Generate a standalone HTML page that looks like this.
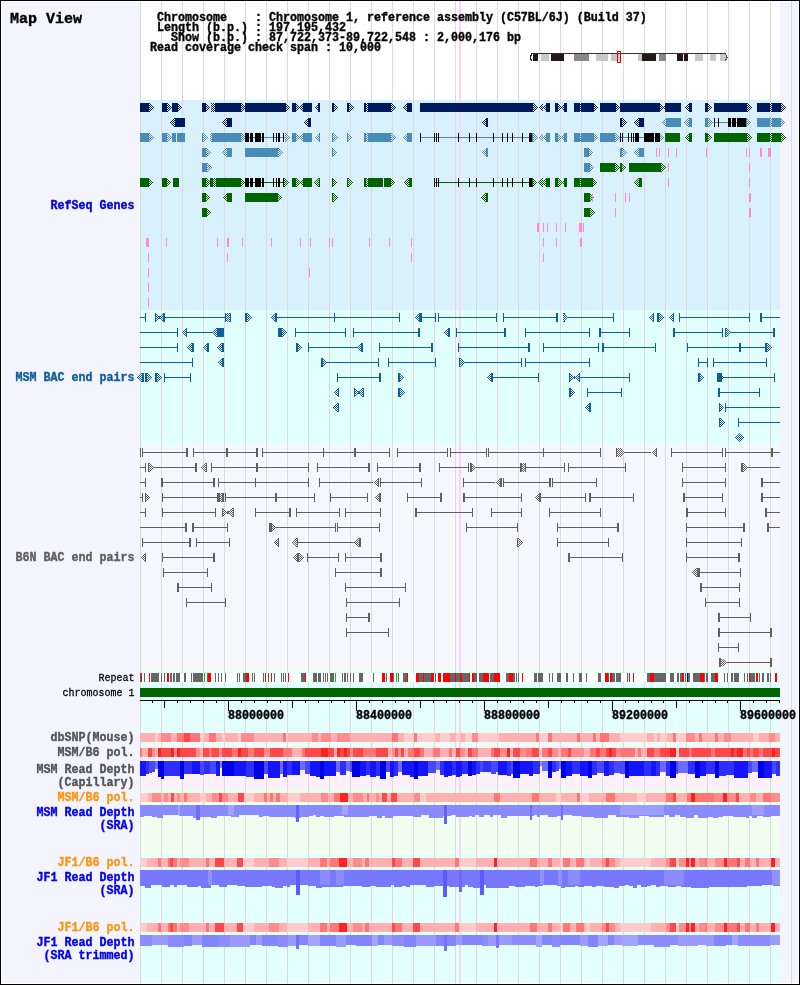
<!DOCTYPE html><html><head><meta charset="utf-8"><title>Map View</title><style>html,body{margin:0;padding:0;background:#fff;}svg{display:block;}</style></head><body><svg width="800" height="985" viewBox="0 0 800 985" shape-rendering="crispEdges"><defs><pattern id="p0" width="2" height="2" patternUnits="userSpaceOnUse"><rect width="2" height="2" fill="#fff"/><rect width="1" height="1" fill="#001a5e"/><rect x="1" y="1" width="1" height="1" fill="#001a5e"/></pattern><pattern id="p1" width="2" height="2" patternUnits="userSpaceOnUse"><rect width="2" height="2" fill="#fff"/><rect width="1" height="1" fill="#4a8cb9"/><rect x="1" y="1" width="1" height="1" fill="#4a8cb9"/></pattern><pattern id="p2" width="2" height="2" patternUnits="userSpaceOnUse"><rect width="2" height="2" fill="#fff"/><rect width="1" height="1" fill="#006400"/><rect x="1" y="1" width="1" height="1" fill="#006400"/></pattern><pattern id="p3" width="2" height="2" patternUnits="userSpaceOnUse"><rect width="2" height="2" fill="#fff"/><rect width="1" height="1" fill="#0f6097"/><rect x="1" y="1" width="1" height="1" fill="#0f6097"/></pattern><pattern id="p4" width="2" height="2" patternUnits="userSpaceOnUse"><rect width="2" height="2" fill="#fff"/><rect width="1" height="1" fill="#5f5f5f"/><rect x="1" y="1" width="1" height="1" fill="#5f5f5f"/></pattern></defs><rect x="0" y="0" width="800" height="985" fill="#000"/><rect x="1" y="1" width="798" height="983" fill="#fff"/><rect x="2" y="2" width="138" height="981" fill="#f4f4ff"/><rect x="780" y="2" width="18" height="981" fill="#f4f4ff"/><rect x="140" y="100" width="640" height="210" fill="#d9f1fc"/><rect x="140" y="310" width="640" height="135" fill="#e2ffff"/><rect x="140" y="445" width="640" height="224" fill="#f6f6fd"/><rect x="140" y="669" width="640" height="2" fill="#ecfeec"/><rect x="140" y="671" width="640" height="73" fill="#e3ffff"/><rect x="140" y="744" width="640" height="2" fill="#ecfeec"/><rect x="140" y="746" width="640" height="43" fill="#fdf0fd"/><rect x="140" y="789" width="640" height="4" fill="#ecfeec"/><rect x="140" y="793" width="640" height="62" fill="#f0fff0"/><rect x="140" y="855" width="640" height="128" fill="#e3ffff"/><rect x="140" y="1" width="1" height="983" fill="#dadada"/><rect x="161" y="1" width="1" height="983" fill="#dadada"/><rect x="182" y="1" width="1" height="983" fill="#dadada"/><rect x="203" y="1" width="1" height="983" fill="#dadada"/><rect x="224" y="1" width="1" height="983" fill="#dadada"/><rect x="245" y="1" width="1" height="983" fill="#dadada"/><rect x="266" y="1" width="1" height="983" fill="#dadada"/><rect x="287" y="1" width="1" height="983" fill="#dadada"/><rect x="308" y="1" width="1" height="983" fill="#dadada"/><rect x="329" y="1" width="1" height="983" fill="#dadada"/><rect x="350" y="1" width="1" height="983" fill="#dadada"/><rect x="371" y="1" width="1" height="983" fill="#dadada"/><rect x="392" y="1" width="1" height="983" fill="#dadada"/><rect x="413" y="1" width="1" height="983" fill="#dadada"/><rect x="434" y="1" width="1" height="983" fill="#dadada"/><rect x="455" y="1" width="1" height="983" fill="#dadada"/><rect x="476" y="1" width="1" height="983" fill="#dadada"/><rect x="497" y="1" width="1" height="983" fill="#dadada"/><rect x="518" y="1" width="1" height="983" fill="#dadada"/><rect x="539" y="1" width="1" height="983" fill="#dadada"/><rect x="560" y="1" width="1" height="983" fill="#dadada"/><rect x="581" y="1" width="1" height="983" fill="#dadada"/><rect x="602" y="1" width="1" height="983" fill="#dadada"/><rect x="623" y="1" width="1" height="983" fill="#dadada"/><rect x="644" y="1" width="1" height="983" fill="#dadada"/><rect x="665" y="1" width="1" height="983" fill="#dadada"/><rect x="686" y="1" width="1" height="983" fill="#dadada"/><rect x="707" y="1" width="1" height="983" fill="#dadada"/><rect x="728" y="1" width="1" height="983" fill="#dadada"/><rect x="749" y="1" width="1" height="983" fill="#dadada"/><rect x="770" y="1" width="1" height="983" fill="#dadada"/><rect x="791" y="1" width="1" height="983" fill="#dadada"/><rect x="459" y="1" width="2" height="983" fill="#f7d6f7"/><rect x="531" y="53" width="194" height="1" fill="#333"/><rect x="533" y="54" width="5" height="7" fill="#231815"/><rect x="541" y="54" width="8" height="7" fill="#c8c8c8"/><rect x="551" y="54" width="13" height="7" fill="#231815"/><rect x="574" y="54" width="15" height="7" fill="#888"/><rect x="596" y="54" width="12" height="7" fill="#c8c8c8"/><rect x="611" y="54" width="9" height="7" fill="#c8c8c8"/><rect x="638" y="54" width="4" height="7" fill="#c8c8c8"/><rect x="642" y="54" width="14" height="7" fill="#231815"/><rect x="659" y="54" width="7" height="7" fill="#888"/><rect x="677" y="54" width="6" height="7" fill="#231815"/><rect x="684" y="54" width="4" height="7" fill="#231815"/><rect x="695" y="54" width="8" height="7" fill="#c8c8c8"/><rect x="710" y="54" width="6" height="7" fill="#c8c8c8"/><rect x="720" y="54" width="6" height="7" fill="#c8c8c8"/><path d="M532,53.5 Q529,57.5 532,61" stroke="#231815" stroke-width="1.4" fill="none"/><path d="M725,53.5 Q729,57.5 725,61" stroke="#555" stroke-width="1.2" fill="none"/><rect x="617.5" y="51.5" width="3" height="11" fill="none" stroke="#e00" stroke-width="1"/><rect x="140" y="103" width="9" height="9" fill="#001a5e"/><polygon points="149,103 154,107.5 149,112" fill="url(#p0)"/><rect x="162" y="103" width="5" height="9" fill="#001a5e"/><polygon points="167,103 172,107.5 167,112" fill="url(#p0)"/><rect x="172" y="103" width="5" height="9" fill="#001a5e"/><rect x="177" y="103" width="1" height="9" fill="#001a5e"/><polygon points="178,103 183,107.5 178,112" fill="url(#p0)"/><rect x="202" y="103" width="4" height="9" fill="#001a5e"/><polygon points="206,103 211,107.5 206,112" fill="url(#p0)"/><rect x="211" y="103" width="4" height="9" fill="url(#p0)"/><rect x="215" y="103" width="26" height="9" fill="#001a5e"/><polygon points="241,103 246,107.5 241,112" fill="url(#p0)"/><rect x="245" y="103" width="41" height="9" fill="#001a5e"/><polygon points="286,103 291,107.5 286,112" fill="url(#p0)"/><rect x="292" y="103" width="4" height="9" fill="#001a5e"/><polygon points="296,103 301,107.5 296,112" fill="url(#p0)"/><polygon points="304,103 299,107.5 304,112" fill="url(#p0)"/><rect x="303" y="103" width="9" height="9" fill="#001a5e"/><polygon points="319,103 314,107.5 319,112" fill="url(#p0)"/><rect x="318" y="103" width="2" height="9" fill="#001a5e"/><rect x="332" y="103" width="2" height="9" fill="#001a5e"/><polygon points="334,103 339,107.5 334,112" fill="url(#p0)"/><rect x="347" y="103" width="2" height="9" fill="#001a5e"/><polygon points="349,103 354,107.5 349,112" fill="url(#p0)"/><rect x="364" y="103" width="26" height="9" fill="#001a5e"/><rect x="366" y="103" width="2" height="9" fill="url(#p0)"/><rect x="390" y="103" width="1" height="9" fill="#001a5e"/><polygon points="391,103 396,107.5 391,112" fill="url(#p0)"/><rect x="407" y="103" width="1" height="9" fill="#001a5e"/><polygon points="407,103 402,107.5 407,112" fill="url(#p0)"/><rect x="408" y="103" width="4" height="9" fill="#001a5e"/><rect x="420" y="103" width="113" height="9" fill="#001a5e"/><polygon points="533,103 538,107.5 533,112" fill="url(#p0)"/><polygon points="543,103 538,107.5 543,112" fill="url(#p0)"/><polygon points="547,103 542,107.5 547,112" fill="url(#p0)"/><rect x="546" y="103" width="4" height="9" fill="#001a5e"/><rect x="555" y="103" width="3" height="9" fill="#001a5e"/><polygon points="558,103 563,107.5 558,112" fill="url(#p0)"/><polygon points="566,103 561,107.5 566,112" fill="url(#p0)"/><rect x="564" y="103" width="3" height="9" fill="#001a5e"/><rect x="574" y="103" width="20" height="9" fill="#001a5e"/><rect x="580" y="103" width="1" height="9" fill="url(#p0)"/><polygon points="594,103 599,107.5 594,112" fill="url(#p0)"/><rect x="600" y="103" width="15" height="9" fill="#001a5e"/><rect x="615" y="103" width="1" height="9" fill="#001a5e"/><polygon points="616,103 621,107.5 616,112" fill="url(#p0)"/><rect x="620" y="103" width="40" height="9" fill="#001a5e"/><polygon points="660,103 665,107.5 660,112" fill="url(#p0)"/><polygon points="667,103 662,107.5 667,112" fill="url(#p0)"/><rect x="665" y="103" width="16" height="9" fill="#001a5e"/><polygon points="689,103 684,107.5 689,112" fill="url(#p0)"/><rect x="689" y="103" width="3" height="9" fill="#001a5e"/><rect x="705" y="103" width="3" height="9" fill="#001a5e"/><polygon points="708,103 713,107.5 708,112" fill="url(#p0)"/><rect x="714" y="103" width="33" height="9" fill="#001a5e"/><polygon points="747,103 752,107.5 747,112" fill="url(#p0)"/><rect x="757" y="103" width="13" height="9" fill="#001a5e"/><rect x="770" y="103" width="2" height="9" fill="url(#p0)"/><rect x="772" y="103" width="8" height="9" fill="#001a5e"/><rect x="780" y="103" width="1" height="9" fill="#001a5e"/><polygon points="781,103 786,107.5 781,112" fill="url(#p0)"/><rect x="175" y="118" width="3" height="9" fill="#001a5e"/><polygon points="175,118 170,122.5 175,127" fill="url(#p0)"/><rect x="178" y="118" width="7" height="9" fill="#001a5e"/><rect x="227" y="118" width="1" height="9" fill="#001a5e"/><polygon points="227,118 222,122.5 227,127" fill="url(#p0)"/><rect x="228" y="118" width="4" height="9" fill="#001a5e"/><polygon points="309,118 304,122.5 309,127" fill="url(#p0)"/><rect x="308" y="118" width="3" height="9" fill="#001a5e"/><polygon points="486,118 481,122.5 486,127" fill="url(#p0)"/><rect x="486" y="118" width="2" height="9" fill="#001a5e"/><rect x="620" y="118" width="2" height="9" fill="#001a5e"/><polygon points="622,118 627,122.5 622,127" fill="url(#p0)"/><rect x="639" y="118" width="1" height="9" fill="#001a5e"/><polygon points="639,118 634,122.5 639,127" fill="url(#p0)"/><rect x="640" y="118" width="4" height="9" fill="#001a5e"/><polygon points="667,118 662,122.5 667,127" fill="url(#p1)"/><rect x="666" y="118" width="15" height="9" fill="#4a8cb9"/><polygon points="689,118 684,122.5 689,127" fill="url(#p1)"/><rect x="689" y="118" width="3" height="9" fill="#4a8cb9"/><rect x="705" y="118" width="2" height="9" fill="#4a8cb9"/><rect x="707" y="118" width="1" height="9" fill="#4a8cb9"/><polygon points="708,118 713,122.5 708,127" fill="url(#p1)"/><rect x="714" y="122" width="33" height="1" fill="#4a8cb9"/><rect x="714" y="118" width="1" height="9" fill="#000"/><rect x="718" y="118" width="1" height="9" fill="#000"/><rect x="728" y="118" width="3" height="9" fill="#000"/><rect x="732" y="118" width="4" height="9" fill="#000"/><rect x="737" y="118" width="9" height="9" fill="#000"/><rect x="746" y="118" width="1" height="9" fill="#4a8cb9"/><polygon points="747,118 752,122.5 747,127" fill="url(#p1)"/><rect x="757" y="118" width="13" height="9" fill="#4a8cb9"/><rect x="770" y="118" width="2" height="9" fill="url(#p1)"/><rect x="772" y="118" width="8" height="9" fill="#4a8cb9"/><rect x="780" y="118" width="1" height="9" fill="#4a8cb9"/><polygon points="781,118 786,122.5 781,127" fill="url(#p1)"/><rect x="140" y="133" width="9" height="9" fill="#4a8cb9"/><polygon points="149,133 154,137.5 149,142" fill="url(#p1)"/><rect x="162" y="133" width="5" height="9" fill="#4a8cb9"/><polygon points="167,133 172,137.5 167,142" fill="url(#p1)"/><rect x="172" y="133" width="4" height="9" fill="#4a8cb9"/><rect x="177" y="133" width="8" height="9" fill="#4a8cb9"/><rect x="202" y="133" width="1" height="9" fill="#4a8cb9"/><polygon points="203,133 208,137.5 203,142" fill="url(#p1)"/><rect x="210" y="133" width="2" height="9" fill="url(#p1)"/><rect x="212" y="133" width="29" height="9" fill="#4a8cb9"/><polygon points="241,133 246,137.5 241,142" fill="url(#p1)"/><rect x="245" y="137" width="40" height="1" fill="#4a8cb9"/><rect x="245" y="133" width="4" height="9" fill="#000"/><rect x="250" y="133" width="3" height="9" fill="#000"/><rect x="255" y="133" width="6" height="9" fill="#000"/><rect x="262" y="133" width="2" height="9" fill="#000"/><rect x="273" y="133" width="1" height="9" fill="#000"/><rect x="276" y="133" width="1" height="9" fill="#000"/><rect x="278" y="133" width="1" height="9" fill="#000"/><rect x="279" y="133" width="1" height="9" fill="#000"/><rect x="283" y="133" width="1" height="9" fill="#000"/><polygon points="285,133 290,137.5 285,142" fill="url(#p1)"/><rect x="292" y="133" width="4" height="9" fill="#4a8cb9"/><polygon points="296,133 301,137.5 296,142" fill="url(#p1)"/><polygon points="304,133 299,137.5 304,142" fill="url(#p1)"/><rect x="303" y="133" width="9" height="9" fill="#4a8cb9"/><rect x="319" y="133" width="1" height="9" fill="#4a8cb9"/><polygon points="319,133 314,137.5 319,142" fill="url(#p1)"/><rect x="332" y="133" width="1" height="9" fill="#4a8cb9"/><polygon points="333,133 338,137.5 333,142" fill="url(#p1)"/><rect x="347" y="133" width="1" height="9" fill="#4a8cb9"/><polygon points="348,133 353,137.5 348,142" fill="url(#p1)"/><rect x="364" y="133" width="26" height="9" fill="#4a8cb9"/><rect x="366" y="133" width="2" height="9" fill="url(#p1)"/><rect x="390" y="133" width="1" height="9" fill="#4a8cb9"/><polygon points="391,133 396,137.5 391,142" fill="url(#p1)"/><rect x="407" y="133" width="2" height="9" fill="#4a8cb9"/><polygon points="407,133 402,137.5 407,142" fill="url(#p1)"/><rect x="409" y="133" width="3" height="9" fill="#4a8cb9"/><rect x="420" y="137" width="113" height="1" fill="#4a8cb9"/><rect x="420" y="133" width="1" height="9" fill="#000"/><rect x="434" y="133" width="1" height="9" fill="#000"/><rect x="436" y="133" width="1" height="9" fill="#000"/><rect x="438" y="133" width="1" height="9" fill="#000"/><rect x="458" y="133" width="1" height="9" fill="#000"/><rect x="469" y="133" width="1" height="9" fill="#000"/><rect x="476" y="133" width="1" height="9" fill="#000"/><rect x="493" y="133" width="1" height="9" fill="#000"/><rect x="502" y="133" width="1" height="9" fill="#000"/><rect x="507" y="133" width="1" height="9" fill="#000"/><rect x="512" y="133" width="1" height="9" fill="#000"/><rect x="522" y="133" width="1" height="9" fill="#000"/><rect x="529" y="133" width="3" height="9" fill="#000"/><rect x="532" y="133" width="1" height="9" fill="#4a8cb9"/><polygon points="533,133 538,137.5 533,142" fill="url(#p1)"/><polygon points="543,133 538,137.5 543,142" fill="url(#p1)"/><polygon points="547,133 542,137.5 547,142" fill="url(#p1)"/><rect x="546" y="133" width="4" height="9" fill="#4a8cb9"/><rect x="555" y="133" width="3" height="9" fill="#4a8cb9"/><polygon points="558,133 563,137.5 558,142" fill="url(#p1)"/><polygon points="566,133 561,137.5 566,142" fill="url(#p1)"/><rect x="564" y="133" width="3" height="9" fill="#4a8cb9"/><rect x="574" y="133" width="20" height="9" fill="#4a8cb9"/><rect x="580" y="133" width="1" height="9" fill="url(#p1)"/><polygon points="594,133 599,137.5 594,142" fill="url(#p1)"/><rect x="600" y="133" width="15" height="9" fill="#4a8cb9"/><polygon points="615,133 620,137.5 615,142" fill="url(#p1)"/><rect x="620" y="137" width="41" height="1" fill="#4a8cb9"/><rect x="620" y="133" width="1" height="9" fill="#000"/><rect x="622" y="133" width="1" height="9" fill="#000"/><rect x="628" y="133" width="1" height="9" fill="#000"/><rect x="631" y="133" width="1" height="9" fill="#000"/><rect x="633" y="133" width="1" height="9" fill="#000"/><rect x="635" y="133" width="4" height="9" fill="#000"/><rect x="644" y="133" width="5" height="9" fill="#000"/><rect x="649" y="133" width="5" height="9" fill="#000"/><rect x="655" y="133" width="5" height="9" fill="#000"/><polygon points="660,133 665,137.5 660,142" fill="url(#p1)"/><rect x="665" y="133" width="15" height="9" fill="#006400"/><rect x="689" y="133" width="1" height="9" fill="#006400"/><polygon points="689,133 684,137.5 689,142" fill="url(#p2)"/><rect x="690" y="133" width="2" height="9" fill="#006400"/><rect x="705" y="133" width="3" height="9" fill="#006400"/><polygon points="708,133 713,137.5 708,142" fill="url(#p2)"/><rect x="714" y="133" width="33" height="9" fill="#006400"/><polygon points="747,133 752,137.5 747,142" fill="url(#p2)"/><rect x="757" y="133" width="13" height="9" fill="#006400"/><rect x="770" y="133" width="2" height="9" fill="url(#p2)"/><rect x="772" y="133" width="8" height="9" fill="#006400"/><rect x="780" y="133" width="1" height="9" fill="#006400"/><polygon points="781,133 786,137.5 781,142" fill="url(#p2)"/><rect x="202" y="148" width="3" height="9" fill="#4a8cb9"/><rect x="205" y="148" width="1" height="9" fill="#4a8cb9"/><polygon points="206,148 211,152.5 206,157" fill="url(#p1)"/><rect x="227" y="148" width="1" height="9" fill="#4a8cb9"/><polygon points="227,148 222,152.5 227,157" fill="url(#p1)"/><rect x="228" y="148" width="4" height="9" fill="#4a8cb9"/><rect x="245" y="148" width="32" height="9" fill="#4a8cb9"/><rect x="277" y="148" width="1" height="9" fill="#4a8cb9"/><polygon points="278,148 283,152.5 278,157" fill="url(#p1)"/><rect x="332" y="148" width="1" height="9" fill="#4a8cb9"/><polygon points="333,148 338,152.5 333,157" fill="url(#p1)"/><rect x="486" y="148" width="2" height="9" fill="#4a8cb9"/><polygon points="486,148 481,152.5 486,157" fill="url(#p1)"/><rect x="584" y="148" width="5" height="9" fill="#4a8cb9"/><polygon points="589,148 594,152.5 589,157" fill="url(#p1)"/><rect x="620" y="148" width="2" height="9" fill="#4a8cb9"/><polygon points="622,148 627,152.5 622,157" fill="url(#p1)"/><rect x="639" y="148" width="1" height="9" fill="#4a8cb9"/><polygon points="639,148 634,152.5 639,157" fill="url(#p1)"/><rect x="640" y="148" width="4" height="9" fill="#4a8cb9"/><rect x="656" y="148" width="1" height="9" fill="#ff8cc4"/><rect x="659" y="148" width="1" height="9" fill="#ff8cc4"/><rect x="668" y="148" width="1" height="9" fill="#ff8cc4"/><rect x="676" y="148" width="1" height="9" fill="#ff8cc4"/><rect x="706" y="148" width="1" height="9" fill="#ff8cc4"/><rect x="746" y="148" width="1" height="9" fill="#ff8cc4"/><rect x="749" y="148" width="1" height="9" fill="#ff8cc4"/><rect x="760" y="148" width="2" height="9" fill="#ff8cc4"/><rect x="768" y="148" width="3" height="9" fill="#ff8cc4"/><rect x="202" y="163" width="3" height="9" fill="#4a8cb9"/><rect x="205" y="163" width="2" height="9" fill="#4a8cb9"/><polygon points="207,163 212,167.5 207,172" fill="url(#p1)"/><rect x="584" y="163" width="5" height="9" fill="#4a8cb9"/><rect x="589" y="163" width="1" height="9" fill="#4a8cb9"/><polygon points="590,163 595,167.5 590,172" fill="url(#p1)"/><rect x="600" y="163" width="15" height="9" fill="#006400"/><polygon points="615,163 620,167.5 615,172" fill="url(#p2)"/><rect x="620" y="163" width="2" height="9" fill="#006400"/><polygon points="622,163 627,167.5 622,172" fill="url(#p2)"/><rect x="629" y="163" width="31" height="9" fill="#006400"/><rect x="660" y="163" width="1" height="9" fill="#006400"/><polygon points="661,163 666,167.5 661,172" fill="url(#p2)"/><rect x="668" y="163" width="1" height="9" fill="#ff8cc4"/><rect x="749" y="163" width="1" height="9" fill="#ff8cc4"/><rect x="140" y="178" width="9" height="9" fill="#006400"/><polygon points="149,178 154,182.5 149,187" fill="url(#p2)"/><rect x="162" y="178" width="5" height="9" fill="#006400"/><polygon points="167,178 172,182.5 167,187" fill="url(#p2)"/><rect x="173" y="178" width="5" height="9" fill="#006400"/><rect x="178" y="178" width="1" height="9" fill="#006400"/><rect x="202" y="178" width="4" height="9" fill="#006400"/><polygon points="206,178 211,182.5 206,187" fill="url(#p2)"/><rect x="210" y="178" width="3" height="9" fill="#006400"/><rect x="213" y="178" width="3" height="9" fill="url(#p2)"/><rect x="216" y="178" width="25" height="9" fill="#006400"/><polygon points="241,178 246,182.5 241,187" fill="url(#p2)"/><rect x="245" y="182" width="40" height="1" fill="#006400"/><rect x="245" y="178" width="4" height="9" fill="#000"/><rect x="250" y="178" width="3" height="9" fill="#000"/><rect x="255" y="178" width="6" height="9" fill="#000"/><rect x="262" y="178" width="2" height="9" fill="#000"/><rect x="273" y="178" width="1" height="9" fill="#000"/><rect x="276" y="178" width="1" height="9" fill="#000"/><rect x="278" y="178" width="1" height="9" fill="#000"/><rect x="279" y="178" width="1" height="9" fill="#000"/><rect x="283" y="178" width="1" height="9" fill="#000"/><polygon points="284,178 289,182.5 284,187" fill="url(#p2)"/><rect x="292" y="178" width="4" height="9" fill="#006400"/><polygon points="296,178 301,182.5 296,187" fill="url(#p2)"/><polygon points="304,178 299,182.5 304,187" fill="url(#p2)"/><rect x="303" y="178" width="9" height="9" fill="#006400"/><rect x="319" y="178" width="1" height="9" fill="#006400"/><polygon points="319,178 314,182.5 319,187" fill="url(#p2)"/><rect x="332" y="178" width="1" height="9" fill="#006400"/><polygon points="333,178 338,182.5 333,187" fill="url(#p2)"/><rect x="347" y="178" width="1" height="9" fill="#006400"/><polygon points="348,178 353,182.5 348,187" fill="url(#p2)"/><rect x="364" y="178" width="26" height="9" fill="#006400"/><rect x="366" y="178" width="2" height="9" fill="url(#p2)"/><rect x="383" y="178" width="1" height="9" fill="#fff"/><rect x="390" y="178" width="1" height="9" fill="#006400"/><polygon points="391,178 396,182.5 391,187" fill="url(#p2)"/><rect x="409" y="178" width="3" height="9" fill="#006400"/><polygon points="409,178 404,182.5 409,187" fill="url(#p2)"/><rect x="434" y="182" width="99" height="1" fill="#006400"/><rect x="434" y="178" width="1" height="9" fill="#000"/><rect x="436" y="178" width="1" height="9" fill="#000"/><rect x="438" y="178" width="1" height="9" fill="#000"/><rect x="458" y="178" width="1" height="9" fill="#000"/><rect x="469" y="178" width="1" height="9" fill="#000"/><rect x="476" y="178" width="1" height="9" fill="#000"/><rect x="493" y="178" width="1" height="9" fill="#000"/><rect x="502" y="178" width="1" height="9" fill="#000"/><rect x="507" y="178" width="1" height="9" fill="#000"/><rect x="512" y="178" width="1" height="9" fill="#000"/><rect x="522" y="178" width="1" height="9" fill="#000"/><rect x="529" y="178" width="3" height="9" fill="#000"/><rect x="532" y="178" width="1" height="9" fill="#006400"/><polygon points="533,178 538,182.5 533,187" fill="url(#p2)"/><polygon points="543,178 538,182.5 543,187" fill="url(#p2)"/><polygon points="547,178 542,182.5 547,187" fill="url(#p2)"/><rect x="546" y="178" width="4" height="9" fill="#006400"/><rect x="555" y="178" width="3" height="9" fill="#006400"/><polygon points="558,178 563,182.5 558,187" fill="url(#p2)"/><polygon points="566,178 561,182.5 566,187" fill="url(#p2)"/><rect x="564" y="178" width="3" height="9" fill="#006400"/><rect x="574" y="178" width="19" height="9" fill="#006400"/><rect x="580" y="178" width="1" height="9" fill="url(#p2)"/><polygon points="593,178 598,182.5 593,187" fill="url(#p2)"/><polygon points="639,178 634,182.5 639,187" fill="url(#p2)"/><rect x="639" y="178" width="3" height="9" fill="#006400"/><rect x="668" y="178" width="1" height="9" fill="#ff8cc4"/><rect x="749" y="178" width="1" height="9" fill="#ff8cc4"/><rect x="202" y="193" width="3" height="9" fill="#006400"/><rect x="205" y="193" width="1" height="9" fill="#006400"/><polygon points="206,193 211,197.5 206,202" fill="url(#p2)"/><rect x="227" y="193" width="1" height="9" fill="#006400"/><polygon points="227,193 222,197.5 227,202" fill="url(#p2)"/><rect x="228" y="193" width="4" height="9" fill="#006400"/><rect x="245" y="193" width="32" height="9" fill="#006400"/><rect x="277" y="193" width="1" height="9" fill="#006400"/><polygon points="278,193 283,197.5 278,202" fill="url(#p2)"/><rect x="332" y="193" width="1" height="9" fill="#006400"/><polygon points="333,193 338,197.5 333,202" fill="url(#p2)"/><rect x="486" y="193" width="2" height="9" fill="#006400"/><polygon points="486,193 481,197.5 486,202" fill="url(#p2)"/><rect x="584" y="193" width="6" height="9" fill="#006400"/><polygon points="590,193 595,197.5 590,202" fill="url(#p2)"/><rect x="592" y="193" width="1" height="9" fill="#ff8cc4"/><rect x="615" y="193" width="1" height="9" fill="#ff8cc4"/><rect x="625" y="193" width="1" height="9" fill="#ff8cc4"/><rect x="629" y="193" width="1" height="9" fill="#ff8cc4"/><rect x="749" y="193" width="2" height="9" fill="#ff8cc4"/><rect x="202" y="208" width="3" height="9" fill="#006400"/><rect x="205" y="208" width="2" height="9" fill="#006400"/><polygon points="207,208 212,212.5 207,217" fill="url(#p2)"/><rect x="584" y="208" width="6" height="9" fill="#006400"/><polygon points="590,208 595,212.5 590,217" fill="url(#p2)"/><rect x="615" y="208" width="1" height="9" fill="#ff8cc4"/><rect x="749" y="208" width="2" height="9" fill="#ff8cc4"/><rect x="537" y="223" width="2" height="9" fill="#ff8cc4"/><rect x="543" y="223" width="1" height="9" fill="#ff8cc4"/><rect x="547" y="223" width="1" height="9" fill="#ff8cc4"/><rect x="556" y="223" width="1" height="9" fill="#ff8cc4"/><rect x="565" y="223" width="1" height="9" fill="#ff8cc4"/><rect x="579" y="223" width="3" height="9" fill="#ff8cc4"/><rect x="583" y="223" width="1" height="9" fill="#ff8cc4"/><rect x="146" y="238" width="3" height="9" fill="#ff8cc4"/><rect x="166" y="238" width="1" height="9" fill="#ff8cc4"/><rect x="217" y="238" width="1" height="9" fill="#ff8cc4"/><rect x="227" y="238" width="2" height="9" fill="#ff8cc4"/><rect x="242" y="238" width="1" height="9" fill="#ff8cc4"/><rect x="271" y="238" width="1" height="9" fill="#ff8cc4"/><rect x="300" y="238" width="1" height="9" fill="#ff8cc4"/><rect x="310" y="238" width="1" height="9" fill="#ff8cc4"/><rect x="329" y="238" width="1" height="9" fill="#ff8cc4"/><rect x="332" y="238" width="1" height="9" fill="#ff8cc4"/><rect x="369" y="238" width="1" height="9" fill="#ff8cc4"/><rect x="389" y="238" width="1" height="9" fill="#ff8cc4"/><rect x="411" y="238" width="1" height="9" fill="#ff8cc4"/><rect x="543" y="238" width="1" height="9" fill="#ff8cc4"/><rect x="556" y="238" width="1" height="9" fill="#ff8cc4"/><rect x="580" y="238" width="2" height="9" fill="#ff8cc4"/><rect x="148" y="253" width="1" height="9" fill="#ff8cc4"/><rect x="227" y="253" width="1" height="9" fill="#ff8cc4"/><rect x="411" y="253" width="1" height="9" fill="#ff8cc4"/><rect x="543" y="253" width="1" height="9" fill="#ff8cc4"/><rect x="148" y="268" width="1" height="9" fill="#ff8cc4"/><rect x="309" y="268" width="1" height="9" fill="#ff8cc4"/><rect x="148" y="283" width="1" height="9" fill="#ff8cc4"/><rect x="148" y="298" width="1" height="9" fill="#ff8cc4"/><rect x="140.0" y="317" width="6.0" height="1" fill="#0f6097"/><rect x="145.0" y="313" width="1" height="9" fill="#0f6097"/><rect x="155" y="313" width="1" height="9" fill="#0f6097"/><rect x="163" y="313" width="1" height="9" fill="#0f6097"/><polygon points="156,313 161,317.5 156,322" fill="url(#p3)"/><polygon points="163,313 158,317.5 163,322" fill="url(#p3)"/><rect x="159" y="316" width="1" height="3" fill="#0f6097"/><rect x="164.0" y="313" width="1" height="9" fill="#0f6097"/><rect x="164.0" y="317" width="63.0" height="1" fill="#0f6097"/><rect x="225" y="313" width="6" height="9" fill="url(#p3)"/><rect x="225" y="313" width="1" height="9" fill="#0f6097"/><rect x="230" y="313" width="1" height="9" fill="#0f6097"/><rect x="245" y="313" width="2" height="9" fill="#0f6097"/><polygon points="247,313 252,317.5 247,322" fill="url(#p3)"/><rect x="275" y="313" width="1" height="9" fill="#0f6097"/><polygon points="275,313 270,317.5 275,322" fill="url(#p3)"/><rect x="276.0" y="313" width="1" height="9" fill="#0f6097"/><rect x="276.0" y="317" width="124.0" height="1" fill="#0f6097"/><rect x="334.0" y="313" width="1" height="9" fill="#0f6097"/><rect x="399.0" y="313" width="1" height="9" fill="#0f6097"/><rect x="419" y="313" width="2" height="9" fill="#0f6097"/><polygon points="419,313 414,317.5 419,322" fill="url(#p3)"/><rect x="421.0" y="313" width="1" height="9" fill="#0f6097"/><rect x="421.0" y="317" width="15.0" height="1" fill="#0f6097"/><rect x="435.0" y="313" width="1" height="9" fill="#0f6097"/><rect x="438.0" y="313" width="1" height="9" fill="#0f6097"/><rect x="438.0" y="317" width="59.0" height="1" fill="#0f6097"/><rect x="496.0" y="313" width="1" height="9" fill="#0f6097"/><rect x="503.0" y="313" width="1" height="9" fill="#0f6097"/><rect x="503.0" y="317" width="55.0" height="1" fill="#0f6097"/><rect x="556.0" y="313" width="2" height="9" fill="#0f6097"/><rect x="563.0" y="313" width="2" height="9" fill="#0f6097"/><polygon points="563,313 568,317.5 563,322" fill="url(#p3)"/><rect x="567.0" y="317" width="47.0" height="1" fill="#0f6097"/><rect x="613.0" y="313" width="1" height="9" fill="#0f6097"/><rect x="653" y="313" width="1" height="9" fill="#0f6097"/><polygon points="653,313 648,317.5 653,322" fill="url(#p3)"/><rect x="657" y="313" width="2" height="9" fill="#0f6097"/><polygon points="659,313 664,317.5 659,322" fill="url(#p3)"/><rect x="673" y="313" width="1" height="9" fill="#0f6097"/><polygon points="673,313 668,317.5 673,322" fill="url(#p3)"/><rect x="679.0" y="313" width="1" height="9" fill="#0f6097"/><rect x="679.0" y="317" width="71.0" height="1" fill="#0f6097"/><rect x="749.0" y="313" width="1" height="9" fill="#0f6097"/><rect x="760.0" y="313" width="2" height="9" fill="#0f6097"/><rect x="760.0" y="317" width="20.0" height="1" fill="#0f6097"/><rect x="140.0" y="332" width="38.0" height="1" fill="#0f6097"/><rect x="177.0" y="328" width="1" height="9" fill="#0f6097"/><rect x="186" y="328" width="1" height="9" fill="#0f6097"/><polygon points="186,328 181,332.5 186,337" fill="url(#p3)"/><rect x="187.0" y="332" width="26.0" height="1" fill="#0f6097"/><rect x="217" y="328" width="1" height="9" fill="#0f6097"/><polygon points="217,328 212,332.5 217,337" fill="url(#p3)"/><rect x="218.0" y="328" width="6.0" height="9" fill="#0f6097"/><rect x="278" y="328" width="4" height="9" fill="#0f6097"/><polygon points="282,328 287,332.5 282,337" fill="url(#p3)"/><rect x="295.0" y="328" width="1" height="9" fill="#0f6097"/><rect x="295.0" y="332" width="51.0" height="1" fill="#0f6097"/><rect x="345.0" y="328" width="1" height="9" fill="#0f6097"/><rect x="353.0" y="328" width="1" height="9" fill="#0f6097"/><rect x="353.0" y="332" width="67.0" height="1" fill="#0f6097"/><rect x="418.0" y="328" width="2" height="9" fill="#0f6097"/><rect x="448" y="328" width="2" height="9" fill="#0f6097"/><polygon points="448,328 443,332.5 448,337" fill="url(#p3)"/><rect x="456.0" y="328" width="1" height="9" fill="#0f6097"/><rect x="456.0" y="332" width="50.0" height="1" fill="#0f6097"/><rect x="504.0" y="328" width="2" height="9" fill="#0f6097"/><rect x="525.0" y="328" width="1" height="9" fill="#0f6097"/><rect x="525.0" y="332" width="65.0" height="1" fill="#0f6097"/><rect x="589.0" y="328" width="1" height="9" fill="#0f6097"/><rect x="599.0" y="328" width="2" height="9" fill="#0f6097"/><rect x="600.0" y="332" width="30.0" height="1" fill="#0f6097"/><rect x="629.0" y="328" width="1" height="9" fill="#0f6097"/><rect x="673.0" y="328" width="2" height="9" fill="#0f6097"/><rect x="674.0" y="332" width="49.0" height="1" fill="#0f6097"/><rect x="722.0" y="328" width="1" height="9" fill="#0f6097"/><rect x="725.0" y="328" width="1" height="9" fill="#0f6097"/><polygon points="726,328 731,332.5 726,337" fill="url(#p3)"/><rect x="730.0" y="332" width="45.0" height="1" fill="#0f6097"/><rect x="773.0" y="328" width="2" height="9" fill="#0f6097"/><rect x="140.0" y="347" width="38.0" height="1" fill="#0f6097"/><rect x="177.0" y="343" width="1" height="9" fill="#0f6097"/><rect x="192" y="343" width="2" height="9" fill="#0f6097"/><polygon points="192,343 187,347.5 192,352" fill="url(#p3)"/><rect x="207" y="343" width="2" height="9" fill="#0f6097"/><polygon points="207,343 202,347.5 207,352" fill="url(#p3)"/><rect x="222" y="343" width="2" height="9" fill="#0f6097"/><polygon points="222,343 217,347.5 222,352" fill="url(#p3)"/><rect x="296" y="343" width="2" height="9" fill="#0f6097"/><polygon points="298,343 303,347.5 298,352" fill="url(#p3)"/><rect x="308.0" y="343" width="1" height="9" fill="#0f6097"/><rect x="308.0" y="347" width="50.0" height="1" fill="#0f6097"/><polygon points="362,343 357,347.5 362,352" fill="url(#p3)"/><rect x="361.0" y="343" width="2.0" height="9" fill="#0f6097"/><rect x="379.0" y="343" width="1" height="9" fill="#0f6097"/><rect x="379.0" y="347" width="54.0" height="1" fill="#0f6097"/><rect x="431.0" y="343" width="2" height="9" fill="#0f6097"/><rect x="458.0" y="343" width="1" height="9" fill="#0f6097"/><rect x="458.0" y="347" width="71.0" height="1" fill="#0f6097"/><rect x="528.0" y="343" width="2" height="9" fill="#0f6097"/><rect x="543.0" y="343" width="1" height="9" fill="#0f6097"/><rect x="543.0" y="347" width="56.0" height="1" fill="#0f6097"/><rect x="598.0" y="343" width="1" height="9" fill="#0f6097"/><rect x="602.0" y="343" width="2" height="9" fill="#0f6097"/><rect x="602.0" y="347" width="54.0" height="1" fill="#0f6097"/><rect x="655.0" y="343" width="1" height="9" fill="#0f6097"/><rect x="687.0" y="343" width="1" height="9" fill="#0f6097"/><rect x="687.0" y="347" width="53.0" height="1" fill="#0f6097"/><rect x="739.0" y="343" width="2" height="9" fill="#0f6097"/><rect x="739.0" y="347" width="27.0" height="1" fill="#0f6097"/><rect x="765" y="343" width="2" height="9" fill="#0f6097"/><polygon points="767,343 772,347.5 767,352" fill="url(#p3)"/><rect x="140.0" y="362" width="53.0" height="1" fill="#0f6097"/><rect x="192.0" y="358" width="1" height="9" fill="#0f6097"/><rect x="222" y="358" width="2" height="9" fill="#0f6097"/><polygon points="222,358 217,362.5 222,367" fill="url(#p3)"/><rect x="321.0" y="358" width="3.0" height="9" fill="#0f6097"/><polygon points="323,358 328,362.5 323,367" fill="url(#p3)"/><rect x="327.0" y="362" width="52.0" height="1" fill="#0f6097"/><rect x="378.0" y="358" width="1" height="9" fill="#0f6097"/><rect x="388.0" y="358" width="1" height="9" fill="#0f6097"/><rect x="388.0" y="362" width="48.0" height="1" fill="#0f6097"/><rect x="435.0" y="358" width="1" height="9" fill="#0f6097"/><rect x="459.0" y="358" width="2" height="9" fill="#0f6097"/><polygon points="460,358 465,362.5 460,367" fill="url(#p3)"/><rect x="464.0" y="362" width="58.0" height="1" fill="#0f6097"/><rect x="521.0" y="358" width="1" height="9" fill="#0f6097"/><rect x="525.0" y="358" width="1" height="9" fill="#0f6097"/><rect x="525.0" y="362" width="65.0" height="1" fill="#0f6097"/><rect x="589.0" y="358" width="1" height="9" fill="#0f6097"/><rect x="698.0" y="358" width="1" height="9" fill="#0f6097"/><rect x="698.0" y="362" width="10.0" height="1" fill="#0f6097"/><rect x="707.0" y="358" width="1" height="9" fill="#0f6097"/><rect x="713.0" y="358" width="1" height="9" fill="#0f6097"/><rect x="713.0" y="362" width="54.0" height="1" fill="#0f6097"/><rect x="766.0" y="358" width="1" height="9" fill="#0f6097"/><polygon points="142,373 137,377.5 142,382" fill="url(#p3)"/><rect x="142.0" y="373" width="2.0" height="9" fill="#0f6097"/><rect x="145" y="373" width="2" height="9" fill="#0f6097"/><polygon points="147,373 152,377.5 147,382" fill="url(#p3)"/><rect x="155" y="373" width="2" height="9" fill="#0f6097"/><polygon points="157,373 162,377.5 157,382" fill="url(#p3)"/><rect x="164.0" y="373" width="1" height="9" fill="#0f6097"/><rect x="164.0" y="377" width="27.0" height="1" fill="#0f6097"/><rect x="190.0" y="373" width="1" height="9" fill="#0f6097"/><rect x="337.0" y="373" width="1" height="9" fill="#0f6097"/><rect x="337.0" y="377" width="44.0" height="1" fill="#0f6097"/><rect x="379.0" y="373" width="2" height="9" fill="#0f6097"/><rect x="398" y="373" width="2" height="9" fill="#0f6097"/><polygon points="400,373 405,377.5 400,382" fill="url(#p3)"/><rect x="491" y="373" width="2" height="9" fill="#0f6097"/><polygon points="491,373 486,377.5 491,382" fill="url(#p3)"/><rect x="492.0" y="377" width="47.0" height="1" fill="#0f6097"/><rect x="538.0" y="373" width="1" height="9" fill="#0f6097"/><rect x="569" y="373" width="1" height="9" fill="#0f6097"/><rect x="579" y="373" width="1" height="9" fill="#0f6097"/><polygon points="570,373 575,377.5 570,382" fill="url(#p3)"/><polygon points="579,373 574,377.5 579,382" fill="url(#p3)"/><rect x="574" y="376" width="1" height="3" fill="#0f6097"/><rect x="579.0" y="377" width="51.0" height="1" fill="#0f6097"/><rect x="629.0" y="373" width="1" height="9" fill="#0f6097"/><rect x="698" y="373" width="2" height="9" fill="#0f6097"/><polygon points="700,373 705,377.5 700,382" fill="url(#p3)"/><polygon points="719,373 724,377.5 719,382" fill="url(#p3)"/><rect x="717.0" y="373" width="5.0" height="9" fill="#0f6097"/><rect x="723.0" y="377" width="52.0" height="1" fill="#0f6097"/><rect x="774.0" y="373" width="1" height="9" fill="#0f6097"/><rect x="338" y="388" width="1" height="9" fill="#0f6097"/><polygon points="338,388 333,392.5 338,397" fill="url(#p3)"/><rect x="354" y="388" width="1" height="9" fill="#0f6097"/><rect x="363" y="388" width="1" height="9" fill="#0f6097"/><polygon points="355,388 360,392.5 355,397" fill="url(#p3)"/><polygon points="363,388 358,392.5 363,397" fill="url(#p3)"/><rect x="358" y="391" width="2" height="3" fill="#0f6097"/><rect x="398" y="388" width="2" height="9" fill="#0f6097"/><polygon points="400,388 405,392.5 400,397" fill="url(#p3)"/><rect x="569" y="388" width="2" height="9" fill="#0f6097"/><polygon points="571,388 576,392.5 571,397" fill="url(#p3)"/><rect x="587.0" y="388" width="1" height="9" fill="#0f6097"/><rect x="587.0" y="392" width="35.0" height="1" fill="#0f6097"/><rect x="621.0" y="388" width="1" height="9" fill="#0f6097"/><rect x="718.0" y="388" width="2" height="9" fill="#0f6097"/><rect x="718.0" y="392" width="42.0" height="1" fill="#0f6097"/><rect x="759.0" y="388" width="1" height="9" fill="#0f6097"/><rect x="338" y="403" width="1" height="9" fill="#0f6097"/><polygon points="338,403 333,407.5 338,412" fill="url(#p3)"/><rect x="589" y="403" width="2" height="9" fill="#0f6097"/><polygon points="589,403 584,407.5 589,412" fill="url(#p3)"/><rect x="719" y="403" width="1" height="9" fill="#0f6097"/><polygon points="720,403 725,407.5 720,412" fill="url(#p3)"/><rect x="725.0" y="403" width="1" height="9" fill="#0f6097"/><rect x="725.0" y="407" width="55.0" height="1" fill="#0f6097"/><rect x="719" y="418" width="1" height="9" fill="#0f6097"/><polygon points="720,418 725,422.5 720,427" fill="url(#p3)"/><rect x="738.0" y="418" width="1" height="9" fill="#0f6097"/><rect x="738.0" y="422" width="42.0" height="1" fill="#0f6097"/><polygon points="740,433 735,437.5 740,442" fill="url(#p3)"/><polygon points="740,433 745,437.5 740,442" fill="url(#p3)"/><rect x="140.0" y="448" width="1" height="9" fill="#5f5f5f"/><rect x="142.0" y="448" width="1" height="9" fill="#5f5f5f"/><rect x="142.0" y="452" width="46.0" height="1" fill="#5f5f5f"/><rect x="186.0" y="448" width="2" height="9" fill="#5f5f5f"/><rect x="193.0" y="448" width="1" height="9" fill="#5f5f5f"/><rect x="193.0" y="452" width="65.0" height="1" fill="#5f5f5f"/><rect x="226.0" y="448" width="2" height="9" fill="#5f5f5f"/><rect x="256.0" y="448" width="2" height="9" fill="#5f5f5f"/><rect x="262.0" y="448" width="1" height="9" fill="#5f5f5f"/><rect x="262.0" y="452" width="128.0" height="1" fill="#5f5f5f"/><rect x="323.0" y="448" width="1" height="9" fill="#5f5f5f"/><rect x="354.0" y="448" width="2" height="9" fill="#5f5f5f"/><rect x="389.0" y="448" width="1" height="9" fill="#5f5f5f"/><rect x="397.0" y="448" width="1" height="9" fill="#5f5f5f"/><rect x="397.0" y="452" width="51.0" height="1" fill="#5f5f5f"/><rect x="447.0" y="448" width="1" height="9" fill="#5f5f5f"/><rect x="450.0" y="448" width="1" height="9" fill="#5f5f5f"/><rect x="450.0" y="452" width="37.0" height="1" fill="#5f5f5f"/><rect x="486.0" y="448" width="1" height="9" fill="#5f5f5f"/><rect x="488.0" y="448" width="1" height="9" fill="#5f5f5f"/><rect x="488.0" y="452" width="113.0" height="1" fill="#5f5f5f"/><rect x="543.0" y="448" width="1" height="9" fill="#5f5f5f"/><rect x="600.0" y="448" width="1" height="9" fill="#5f5f5f"/><rect x="616" y="448" width="6" height="9" fill="url(#p4)"/><rect x="616" y="448" width="1" height="9" fill="#5f5f5f"/><rect x="621" y="448" width="1" height="9" fill="#5f5f5f"/><polygon points="621,448 626,452.5 621,457" fill="url(#p4)"/><rect x="625.0" y="452" width="27.0" height="1" fill="#5f5f5f"/><rect x="656" y="448" width="1" height="9" fill="#5f5f5f"/><polygon points="656,448 651,452.5 656,457" fill="url(#p4)"/><rect x="671.0" y="448" width="1" height="9" fill="#5f5f5f"/><rect x="671.0" y="452" width="52.0" height="1" fill="#5f5f5f"/><rect x="722.0" y="448" width="1" height="9" fill="#5f5f5f"/><rect x="725.0" y="448" width="1" height="9" fill="#5f5f5f"/><rect x="725.0" y="452" width="48.0" height="1" fill="#5f5f5f"/><rect x="771.0" y="448" width="2" height="9" fill="#5f5f5f"/><rect x="772.0" y="452" width="8.0" height="1" fill="#5f5f5f"/><rect x="140.0" y="467" width="6.0" height="1" fill="#5f5f5f"/><rect x="145.0" y="463" width="1" height="9" fill="#5f5f5f"/><rect x="148.0" y="463" width="2.0" height="9" fill="#5f5f5f"/><polygon points="149,463 154,467.5 149,472" fill="url(#p4)"/><rect x="153.0" y="467" width="43.0" height="1" fill="#5f5f5f"/><rect x="195.0" y="463" width="2" height="9" fill="#5f5f5f"/><rect x="206" y="463" width="1" height="9" fill="#5f5f5f"/><polygon points="206,463 201,467.5 206,472" fill="url(#p4)"/><rect x="211.0" y="463" width="1" height="9" fill="#5f5f5f"/><rect x="211.0" y="467" width="98.0" height="1" fill="#5f5f5f"/><rect x="256.0" y="463" width="2" height="9" fill="#5f5f5f"/><rect x="308.0" y="463" width="1" height="9" fill="#5f5f5f"/><rect x="317.0" y="463" width="1" height="9" fill="#5f5f5f"/><rect x="317.0" y="467" width="53.0" height="1" fill="#5f5f5f"/><rect x="368.0" y="463" width="2" height="9" fill="#5f5f5f"/><rect x="377.0" y="463" width="1" height="9" fill="#5f5f5f"/><rect x="377.0" y="467" width="44.0" height="1" fill="#5f5f5f"/><rect x="419.0" y="463" width="2" height="9" fill="#5f5f5f"/><rect x="439.0" y="463" width="1" height="9" fill="#5f5f5f"/><rect x="439.0" y="467" width="30.0" height="1" fill="#5f5f5f"/><rect x="468.0" y="463" width="1" height="9" fill="#5f5f5f"/><rect x="470.0" y="463" width="3.0" height="9" fill="#5f5f5f"/><polygon points="472,463 477,467.5 472,472" fill="url(#p4)"/><rect x="476.0" y="467" width="45.0" height="1" fill="#5f5f5f"/><rect x="520.0" y="463" width="1" height="9" fill="#5f5f5f"/><rect x="521" y="463" width="5" height="9" fill="url(#p4)"/><rect x="521" y="463" width="1" height="9" fill="#5f5f5f"/><rect x="525" y="463" width="1" height="9" fill="#5f5f5f"/><rect x="525.0" y="467" width="40.0" height="1" fill="#5f5f5f"/><rect x="564.0" y="463" width="1" height="9" fill="#5f5f5f"/><rect x="568.0" y="463" width="1" height="9" fill="#5f5f5f"/><rect x="568.0" y="467" width="58.0" height="1" fill="#5f5f5f"/><rect x="625.0" y="463" width="1" height="9" fill="#5f5f5f"/><rect x="682.0" y="463" width="1" height="9" fill="#5f5f5f"/><rect x="682.0" y="467" width="44.0" height="1" fill="#5f5f5f"/><rect x="725.0" y="463" width="1" height="9" fill="#5f5f5f"/><rect x="741" y="463" width="2" height="9" fill="#5f5f5f"/><polygon points="743,463 748,467.5 743,472" fill="url(#p4)"/><rect x="747.0" y="467" width="33.0" height="1" fill="#5f5f5f"/><rect x="140.0" y="482" width="6.0" height="1" fill="#5f5f5f"/><rect x="145.0" y="478" width="1" height="9" fill="#5f5f5f"/><rect x="161.0" y="478" width="2" height="9" fill="#5f5f5f"/><rect x="162.0" y="482" width="53.0" height="1" fill="#5f5f5f"/><rect x="213.0" y="478" width="2" height="9" fill="#5f5f5f"/><rect x="218.0" y="478" width="1" height="9" fill="#5f5f5f"/><rect x="218.0" y="482" width="91.0" height="1" fill="#5f5f5f"/><rect x="255.0" y="478" width="1" height="9" fill="#5f5f5f"/><rect x="308.0" y="478" width="1" height="9" fill="#5f5f5f"/><rect x="319.0" y="478" width="1" height="9" fill="#5f5f5f"/><rect x="319.0" y="482" width="55.0" height="1" fill="#5f5f5f"/><rect x="378" y="478" width="1" height="9" fill="#5f5f5f"/><polygon points="378,478 373,482.5 378,487" fill="url(#p4)"/><rect x="380.0" y="478" width="1" height="9" fill="#5f5f5f"/><rect x="380.0" y="482" width="42.0" height="1" fill="#5f5f5f"/><rect x="421.0" y="478" width="1" height="9" fill="#5f5f5f"/><rect x="463.0" y="478" width="1" height="9" fill="#5f5f5f"/><rect x="463.0" y="482" width="33.0" height="1" fill="#5f5f5f"/><polygon points="500,478 495,482.5 500,487" fill="url(#p4)"/><rect x="500.0" y="478" width="2.0" height="9" fill="#5f5f5f"/><rect x="503.0" y="478" width="1" height="9" fill="#5f5f5f"/><rect x="503.0" y="482" width="48.0" height="1" fill="#5f5f5f"/><rect x="549.0" y="478" width="2" height="9" fill="#5f5f5f"/><rect x="552.0" y="478" width="1" height="9" fill="#5f5f5f"/><rect x="552.0" y="482" width="45.0" height="1" fill="#5f5f5f"/><rect x="596.0" y="478" width="1" height="9" fill="#5f5f5f"/><rect x="682.0" y="478" width="1" height="9" fill="#5f5f5f"/><rect x="682.0" y="482" width="44.0" height="1" fill="#5f5f5f"/><rect x="725.0" y="478" width="1" height="9" fill="#5f5f5f"/><rect x="761.0" y="478" width="2" height="9" fill="#5f5f5f"/><rect x="761.0" y="482" width="19.0" height="1" fill="#5f5f5f"/><rect x="140.0" y="497" width="3.0" height="1" fill="#5f5f5f"/><rect x="142.0" y="493" width="1" height="9" fill="#5f5f5f"/><rect x="145" y="493" width="1" height="9" fill="#5f5f5f"/><polygon points="146,493 151,497.5 146,502" fill="url(#p4)"/><rect x="162.0" y="493" width="1" height="9" fill="#5f5f5f"/><rect x="162.0" y="497" width="56.0" height="1" fill="#5f5f5f"/><rect x="217.0" y="493" width="2" height="9" fill="#5f5f5f"/><rect x="219" y="493" width="4" height="9" fill="url(#p4)"/><rect x="219" y="493" width="1" height="9" fill="#5f5f5f"/><rect x="222" y="493" width="1" height="9" fill="#5f5f5f"/><rect x="223.0" y="493" width="1" height="9" fill="#5f5f5f"/><rect x="225.0" y="493" width="1" height="9" fill="#5f5f5f"/><rect x="225.0" y="497" width="90.0" height="1" fill="#5f5f5f"/><rect x="275.0" y="493" width="2" height="9" fill="#5f5f5f"/><rect x="314.0" y="493" width="1" height="9" fill="#5f5f5f"/><rect x="330.0" y="493" width="1" height="9" fill="#5f5f5f"/><rect x="330.0" y="497" width="38.0" height="1" fill="#5f5f5f"/><rect x="367.0" y="493" width="1" height="9" fill="#5f5f5f"/><rect x="379" y="493" width="2" height="9" fill="#5f5f5f"/><polygon points="379,493 374,497.5 379,502" fill="url(#p4)"/><rect x="407.0" y="493" width="1" height="9" fill="#5f5f5f"/><rect x="407.0" y="497" width="35.0" height="1" fill="#5f5f5f"/><rect x="440.0" y="493" width="2" height="9" fill="#5f5f5f"/><rect x="463.0" y="493" width="2" height="9" fill="#5f5f5f"/><rect x="463.0" y="497" width="59.0" height="1" fill="#5f5f5f"/><rect x="521.0" y="493" width="1" height="9" fill="#5f5f5f"/><rect x="539" y="493" width="2" height="9" fill="#5f5f5f"/><polygon points="539,493 534,497.5 539,502" fill="url(#p4)"/><rect x="540.0" y="497" width="46.0" height="1" fill="#5f5f5f"/><rect x="585.0" y="493" width="1" height="9" fill="#5f5f5f"/><rect x="589.0" y="493" width="2" height="9" fill="#5f5f5f"/><rect x="589.0" y="497" width="45.0" height="1" fill="#5f5f5f"/><rect x="633.0" y="493" width="1" height="9" fill="#5f5f5f"/><rect x="683.0" y="493" width="2" height="9" fill="#5f5f5f"/><rect x="683.0" y="497" width="40.0" height="1" fill="#5f5f5f"/><rect x="722.0" y="493" width="1" height="9" fill="#5f5f5f"/><rect x="761.0" y="493" width="2" height="9" fill="#5f5f5f"/><rect x="761.0" y="497" width="19.0" height="1" fill="#5f5f5f"/><rect x="140.0" y="512" width="6.0" height="1" fill="#5f5f5f"/><rect x="145.0" y="508" width="1" height="9" fill="#5f5f5f"/><rect x="162.0" y="508" width="1" height="9" fill="#5f5f5f"/><rect x="162.0" y="512" width="54.0" height="1" fill="#5f5f5f"/><rect x="215.0" y="508" width="1" height="9" fill="#5f5f5f"/><rect x="222" y="508" width="1" height="9" fill="#5f5f5f"/><rect x="233" y="508" width="1" height="9" fill="#5f5f5f"/><polygon points="223,508 228,512.5 223,517" fill="url(#p4)"/><polygon points="233,508 228,512.5 233,517" fill="url(#p4)"/><rect x="227" y="511" width="2" height="3" fill="#5f5f5f"/><rect x="255.0" y="508" width="1" height="9" fill="#5f5f5f"/><rect x="255.0" y="512" width="36.0" height="1" fill="#5f5f5f"/><rect x="289.0" y="508" width="2" height="9" fill="#5f5f5f"/><rect x="296.0" y="508" width="1" height="9" fill="#5f5f5f"/><rect x="296.0" y="512" width="44.0" height="1" fill="#5f5f5f"/><rect x="339.0" y="508" width="1" height="9" fill="#5f5f5f"/><rect x="345.0" y="508" width="1" height="9" fill="#5f5f5f"/><rect x="345.0" y="512" width="36.0" height="1" fill="#5f5f5f"/><rect x="380.0" y="508" width="1" height="9" fill="#5f5f5f"/><rect x="415.0" y="508" width="2" height="9" fill="#5f5f5f"/><rect x="415.0" y="512" width="58.0" height="1" fill="#5f5f5f"/><rect x="472.0" y="508" width="1" height="9" fill="#5f5f5f"/><rect x="491.0" y="508" width="1" height="9" fill="#5f5f5f"/><rect x="491.0" y="512" width="31.0" height="1" fill="#5f5f5f"/><rect x="521.0" y="508" width="1" height="9" fill="#5f5f5f"/><rect x="549.0" y="508" width="1" height="9" fill="#5f5f5f"/><rect x="549.0" y="512" width="52.0" height="1" fill="#5f5f5f"/><rect x="600.0" y="508" width="1" height="9" fill="#5f5f5f"/><rect x="686.0" y="508" width="2" height="9" fill="#5f5f5f"/><rect x="686.0" y="512" width="40.0" height="1" fill="#5f5f5f"/><rect x="725.0" y="508" width="1" height="9" fill="#5f5f5f"/><rect x="765.0" y="508" width="2" height="9" fill="#5f5f5f"/><rect x="765.0" y="512" width="15.0" height="1" fill="#5f5f5f"/><rect x="140.0" y="527" width="47.0" height="1" fill="#5f5f5f"/><rect x="185.0" y="523" width="2" height="9" fill="#5f5f5f"/><rect x="192.0" y="523" width="2" height="9" fill="#5f5f5f"/><rect x="193.0" y="527" width="35.0" height="1" fill="#5f5f5f"/><rect x="227.0" y="523" width="1" height="9" fill="#5f5f5f"/><rect x="269" y="523" width="3" height="9" fill="#5f5f5f"/><polygon points="272,523 277,527.5 272,532" fill="url(#p4)"/><rect x="276.0" y="527" width="60.0" height="1" fill="#5f5f5f"/><rect x="335.0" y="523" width="1" height="9" fill="#5f5f5f"/><rect x="337.0" y="523" width="1" height="9" fill="#5f5f5f"/><rect x="337.0" y="527" width="43.0" height="1" fill="#5f5f5f"/><rect x="379.0" y="523" width="1" height="9" fill="#5f5f5f"/><rect x="466.0" y="523" width="1" height="9" fill="#5f5f5f"/><rect x="466.0" y="527" width="52.0" height="1" fill="#5f5f5f"/><rect x="517.0" y="523" width="1" height="9" fill="#5f5f5f"/><rect x="557.0" y="523" width="1" height="9" fill="#5f5f5f"/><rect x="557.0" y="527" width="62.0" height="1" fill="#5f5f5f"/><rect x="617.0" y="523" width="2" height="9" fill="#5f5f5f"/><rect x="686.0" y="523" width="1" height="9" fill="#5f5f5f"/><rect x="686.0" y="527" width="59.0" height="1" fill="#5f5f5f"/><rect x="743.0" y="523" width="2" height="9" fill="#5f5f5f"/><rect x="767.0" y="523" width="2" height="9" fill="#5f5f5f"/><rect x="767.0" y="527" width="13.0" height="1" fill="#5f5f5f"/><rect x="142.0" y="538" width="1" height="9" fill="#5f5f5f"/><rect x="142.0" y="542" width="49.0" height="1" fill="#5f5f5f"/><rect x="189.0" y="538" width="2" height="9" fill="#5f5f5f"/><rect x="196.0" y="538" width="1" height="9" fill="#5f5f5f"/><rect x="196.0" y="542" width="34.0" height="1" fill="#5f5f5f"/><rect x="229.0" y="538" width="1" height="9" fill="#5f5f5f"/><rect x="278" y="538" width="1" height="9" fill="#5f5f5f"/><polygon points="278,538 273,542.5 278,547" fill="url(#p4)"/><polygon points="297,538 292,542.5 297,547" fill="url(#p4)"/><rect x="297.0" y="538" width="1" height="9" fill="#5f5f5f"/><rect x="298.0" y="542" width="57.0" height="1" fill="#5f5f5f"/><rect x="359" y="538" width="2" height="9" fill="#5f5f5f"/><polygon points="359,538 354,542.5 359,547" fill="url(#p4)"/><rect x="517" y="538" width="1" height="9" fill="#5f5f5f"/><polygon points="518,538 523,542.5 518,547" fill="url(#p4)"/><rect x="557.0" y="538" width="1" height="9" fill="#5f5f5f"/><rect x="557.0" y="542" width="52.0" height="1" fill="#5f5f5f"/><rect x="608.0" y="538" width="1" height="9" fill="#5f5f5f"/><rect x="686.0" y="538" width="1" height="9" fill="#5f5f5f"/><rect x="686.0" y="542" width="56.0" height="1" fill="#5f5f5f"/><rect x="741.0" y="538" width="1" height="9" fill="#5f5f5f"/><rect x="145" y="553" width="1" height="9" fill="#5f5f5f"/><polygon points="145,553 140,557.5 145,562" fill="url(#p4)"/><rect x="162.0" y="553" width="1" height="9" fill="#5f5f5f"/><rect x="162.0" y="557" width="53.0" height="1" fill="#5f5f5f"/><rect x="213.0" y="553" width="2" height="9" fill="#5f5f5f"/><rect x="297" y="553" width="1" height="9" fill="#5f5f5f"/><polygon points="297,553 292,557.5 297,562" fill="url(#p4)"/><rect x="298" y="553" width="1" height="9" fill="#5f5f5f"/><polygon points="299,553 304,557.5 299,562" fill="url(#p4)"/><rect x="307.0" y="553" width="1" height="9" fill="#5f5f5f"/><rect x="307.0" y="557" width="32.0" height="1" fill="#5f5f5f"/><rect x="338.0" y="553" width="1" height="9" fill="#5f5f5f"/><rect x="345.0" y="553" width="1" height="9" fill="#5f5f5f"/><rect x="345.0" y="557" width="37.0" height="1" fill="#5f5f5f"/><rect x="380.0" y="553" width="2" height="9" fill="#5f5f5f"/><rect x="568.0" y="553" width="2" height="9" fill="#5f5f5f"/><rect x="569.0" y="557" width="54.0" height="1" fill="#5f5f5f"/><rect x="622.0" y="553" width="1" height="9" fill="#5f5f5f"/><rect x="686.0" y="553" width="1" height="9" fill="#5f5f5f"/><rect x="686.0" y="557" width="54.0" height="1" fill="#5f5f5f"/><rect x="738.0" y="553" width="2" height="9" fill="#5f5f5f"/><rect x="163.0" y="568" width="1" height="9" fill="#5f5f5f"/><rect x="163.0" y="572" width="45.0" height="1" fill="#5f5f5f"/><rect x="207.0" y="568" width="1" height="9" fill="#5f5f5f"/><rect x="335.0" y="568" width="1" height="9" fill="#5f5f5f"/><rect x="335.0" y="572" width="47.0" height="1" fill="#5f5f5f"/><rect x="380.0" y="568" width="2" height="9" fill="#5f5f5f"/><rect x="697" y="568" width="1" height="9" fill="#5f5f5f"/><polygon points="697,568 692,572.5 697,577" fill="url(#p4)"/><rect x="698.0" y="568" width="2.0" height="9" fill="#5f5f5f"/><rect x="699.0" y="572" width="42.0" height="1" fill="#5f5f5f"/><rect x="740.0" y="568" width="1" height="9" fill="#5f5f5f"/><rect x="177.0" y="583" width="2" height="9" fill="#5f5f5f"/><rect x="177.0" y="587" width="35.0" height="1" fill="#5f5f5f"/><rect x="211.0" y="583" width="1" height="9" fill="#5f5f5f"/><rect x="345.0" y="583" width="1" height="9" fill="#5f5f5f"/><rect x="345.0" y="587" width="61.0" height="1" fill="#5f5f5f"/><rect x="405.0" y="583" width="1" height="9" fill="#5f5f5f"/><rect x="700.0" y="583" width="2" height="9" fill="#5f5f5f"/><rect x="701.0" y="587" width="39.0" height="1" fill="#5f5f5f"/><rect x="739.0" y="583" width="1" height="9" fill="#5f5f5f"/><rect x="186.0" y="598" width="1" height="9" fill="#5f5f5f"/><rect x="186.0" y="602" width="40.0" height="1" fill="#5f5f5f"/><rect x="225.0" y="598" width="1" height="9" fill="#5f5f5f"/><rect x="346.0" y="598" width="1" height="9" fill="#5f5f5f"/><rect x="346.0" y="602" width="54.0" height="1" fill="#5f5f5f"/><rect x="399.0" y="598" width="1" height="9" fill="#5f5f5f"/><rect x="705.0" y="598" width="1" height="9" fill="#5f5f5f"/><rect x="705.0" y="602" width="35.0" height="1" fill="#5f5f5f"/><rect x="739.0" y="598" width="1" height="9" fill="#5f5f5f"/><rect x="346.0" y="613" width="1" height="9" fill="#5f5f5f"/><rect x="346.0" y="617" width="24.0" height="1" fill="#5f5f5f"/><rect x="368.0" y="613" width="2" height="9" fill="#5f5f5f"/><rect x="718.0" y="613" width="2" height="9" fill="#5f5f5f"/><rect x="718.0" y="617" width="33.0" height="1" fill="#5f5f5f"/><rect x="750.0" y="613" width="1" height="9" fill="#5f5f5f"/><rect x="346.0" y="628" width="1" height="9" fill="#5f5f5f"/><rect x="346.0" y="632" width="43.0" height="1" fill="#5f5f5f"/><rect x="388.0" y="628" width="1" height="9" fill="#5f5f5f"/><rect x="718.0" y="628" width="2" height="9" fill="#5f5f5f"/><rect x="718.0" y="632" width="54.0" height="1" fill="#5f5f5f"/><rect x="770.0" y="628" width="2" height="9" fill="#5f5f5f"/><rect x="718.0" y="643" width="1" height="9" fill="#5f5f5f"/><rect x="718.0" y="647" width="21.0" height="1" fill="#5f5f5f"/><rect x="738.0" y="643" width="1" height="9" fill="#5f5f5f"/><rect x="719.0" y="658" width="2" height="9" fill="#5f5f5f"/><polygon points="721,658 726,662.5 721,667" fill="url(#p4)"/><polygon points="723,658 728,662.5 723,667" fill="url(#p4)"/><rect x="727.0" y="662" width="45.0" height="1" fill="#5f5f5f"/><rect x="770.0" y="658" width="2" height="9" fill="#5f5f5f"/><rect x="140" y="688" width="640" height="9" fill="#006400"/><rect x="140" y="700" width="640" height="1" fill="#000"/><rect x="152" y="701" width="1" height="2" fill="#000"/><rect x="164" y="701" width="1" height="7" fill="#000"/><rect x="177" y="701" width="1" height="2" fill="#000"/><rect x="190" y="701" width="1" height="2" fill="#000"/><rect x="203" y="701" width="1" height="2" fill="#000"/><rect x="216" y="701" width="1" height="2" fill="#000"/><rect x="228" y="701" width="1" height="10" fill="#000"/><rect x="241" y="701" width="1" height="2" fill="#000"/><rect x="254" y="701" width="1" height="2" fill="#000"/><rect x="267" y="701" width="1" height="2" fill="#000"/><rect x="280" y="701" width="1" height="2" fill="#000"/><rect x="292" y="701" width="1" height="7" fill="#000"/><rect x="305" y="701" width="1" height="2" fill="#000"/><rect x="318" y="701" width="1" height="2" fill="#000"/><rect x="331" y="701" width="1" height="2" fill="#000"/><rect x="344" y="701" width="1" height="2" fill="#000"/><rect x="356" y="701" width="1" height="10" fill="#000"/><rect x="369" y="701" width="1" height="2" fill="#000"/><rect x="382" y="701" width="1" height="2" fill="#000"/><rect x="395" y="701" width="1" height="2" fill="#000"/><rect x="408" y="701" width="1" height="2" fill="#000"/><rect x="420" y="701" width="1" height="7" fill="#000"/><rect x="433" y="701" width="1" height="2" fill="#000"/><rect x="446" y="701" width="1" height="2" fill="#000"/><rect x="459" y="701" width="1" height="2" fill="#000"/><rect x="472" y="701" width="1" height="2" fill="#000"/><rect x="484" y="701" width="1" height="10" fill="#000"/><rect x="497" y="701" width="1" height="2" fill="#000"/><rect x="510" y="701" width="1" height="2" fill="#000"/><rect x="523" y="701" width="1" height="2" fill="#000"/><rect x="536" y="701" width="1" height="2" fill="#000"/><rect x="548" y="701" width="1" height="7" fill="#000"/><rect x="561" y="701" width="1" height="2" fill="#000"/><rect x="574" y="701" width="1" height="2" fill="#000"/><rect x="587" y="701" width="1" height="2" fill="#000"/><rect x="600" y="701" width="1" height="2" fill="#000"/><rect x="612" y="701" width="1" height="10" fill="#000"/><rect x="625" y="701" width="1" height="2" fill="#000"/><rect x="638" y="701" width="1" height="2" fill="#000"/><rect x="651" y="701" width="1" height="2" fill="#000"/><rect x="663" y="701" width="1" height="2" fill="#000"/><rect x="676" y="701" width="1" height="7" fill="#000"/><rect x="689" y="701" width="1" height="2" fill="#000"/><rect x="702" y="701" width="1" height="2" fill="#000"/><rect x="715" y="701" width="1" height="2" fill="#000"/><rect x="727" y="701" width="1" height="2" fill="#000"/><rect x="740" y="701" width="1" height="10" fill="#000"/><rect x="753" y="701" width="1" height="2" fill="#000"/><rect x="766" y="701" width="1" height="2" fill="#000"/><rect x="779" y="701" width="1" height="2" fill="#000"/><rect x="140" y="673" width="640" height="9" fill="#fff"/><rect x="140" y="673" width="1" height="9" fill="#666"/><rect x="141" y="673" width="1" height="9" fill="#f00"/><rect x="144" y="673" width="1" height="9" fill="#666"/><rect x="149" y="673" width="1" height="9" fill="#f00"/><rect x="151" y="673" width="8" height="9" fill="#666"/><rect x="161" y="673" width="1" height="9" fill="#666"/><rect x="164" y="673" width="1" height="9" fill="#666"/><rect x="167" y="673" width="2" height="9" fill="#f00"/><rect x="170" y="673" width="2" height="9" fill="#666"/><rect x="173" y="673" width="2" height="9" fill="#666"/><rect x="176" y="673" width="2" height="9" fill="#666"/><rect x="178" y="673" width="2" height="9" fill="#666"/><rect x="184" y="673" width="2" height="9" fill="#666"/><rect x="191" y="673" width="1" height="9" fill="#666"/><rect x="193" y="673" width="3" height="9" fill="#666"/><rect x="196" y="673" width="7" height="9" fill="#666"/><rect x="204" y="673" width="1" height="9" fill="#0c0"/><rect x="207" y="673" width="1" height="9" fill="#666"/><rect x="208" y="673" width="3" height="9" fill="#f00"/><rect x="215" y="673" width="1" height="9" fill="#666"/><rect x="218" y="673" width="1" height="9" fill="#666"/><rect x="221" y="673" width="1" height="9" fill="#666"/><rect x="225" y="673" width="1" height="9" fill="#666"/><rect x="237" y="673" width="1" height="9" fill="#666"/><rect x="239" y="673" width="1" height="9" fill="#666"/><rect x="243" y="673" width="3" height="9" fill="#666"/><rect x="246" y="673" width="3" height="9" fill="#f00"/><rect x="252" y="673" width="1" height="9" fill="#666"/><rect x="254" y="673" width="1" height="9" fill="#666"/><rect x="263" y="673" width="1" height="9" fill="#666"/><rect x="265" y="673" width="1" height="9" fill="#f00"/><rect x="268" y="673" width="1" height="9" fill="#666"/><rect x="271" y="673" width="1" height="9" fill="#f00"/><rect x="274" y="673" width="1" height="9" fill="#666"/><rect x="281" y="673" width="1" height="9" fill="#666"/><rect x="283" y="673" width="1" height="9" fill="#666"/><rect x="285" y="673" width="1" height="9" fill="#666"/><rect x="288" y="673" width="1" height="9" fill="#f00"/><rect x="301" y="673" width="4" height="9" fill="#666"/><rect x="305" y="673" width="1" height="9" fill="#f00"/><rect x="313" y="673" width="4" height="9" fill="#666"/><rect x="318" y="673" width="3" height="9" fill="#666"/><rect x="323" y="673" width="1" height="9" fill="#666"/><rect x="325" y="673" width="1" height="9" fill="#666"/><rect x="327" y="673" width="1" height="9" fill="#666"/><rect x="330" y="673" width="2" height="9" fill="#666"/><rect x="332" y="673" width="2" height="9" fill="#666"/><rect x="335" y="673" width="1" height="9" fill="#0c0"/><rect x="342" y="673" width="1" height="9" fill="#666"/><rect x="344" y="673" width="2" height="9" fill="#666"/><rect x="347" y="673" width="1" height="9" fill="#666"/><rect x="350" y="673" width="1" height="9" fill="#666"/><rect x="353" y="673" width="1" height="9" fill="#666"/><rect x="359" y="673" width="4" height="9" fill="#666"/><rect x="373" y="673" width="1" height="9" fill="#666"/><rect x="382" y="673" width="3" height="9" fill="#f00"/><rect x="386" y="673" width="1" height="9" fill="#666"/><rect x="390" y="673" width="3" height="9" fill="#f00"/><rect x="393" y="673" width="1" height="9" fill="#666"/><rect x="396" y="673" width="1" height="9" fill="#0c0"/><rect x="398" y="673" width="1" height="9" fill="#666"/><rect x="403" y="673" width="4" height="9" fill="#666"/><rect x="407" y="673" width="1" height="9" fill="#f00"/><rect x="416" y="673" width="4" height="9" fill="#f00"/><rect x="419" y="673" width="4" height="9" fill="#666"/><rect x="423" y="673" width="2" height="9" fill="#f00"/><rect x="424" y="673" width="8" height="9" fill="#666"/><rect x="431" y="673" width="3" height="9" fill="#f00"/><rect x="435" y="673" width="1" height="9" fill="#666"/><rect x="438" y="673" width="3" height="9" fill="#f00"/><rect x="443" y="673" width="7" height="9" fill="#f00"/><rect x="450" y="673" width="3" height="9" fill="#666"/><rect x="452" y="673" width="3" height="9" fill="#666"/><rect x="455" y="673" width="1" height="9" fill="#f00"/><rect x="456" y="673" width="4" height="9" fill="#666"/><rect x="460" y="673" width="3" height="9" fill="#f00"/><rect x="462" y="673" width="3" height="9" fill="#666"/><rect x="465" y="673" width="5" height="9" fill="#666"/><rect x="469" y="673" width="1" height="9" fill="#f00"/><rect x="472" y="673" width="3" height="9" fill="#f00"/><rect x="474" y="673" width="3" height="9" fill="#666"/><rect x="479" y="673" width="5" height="9" fill="#666"/><rect x="483" y="673" width="6" height="9" fill="#f00"/><rect x="490" y="673" width="4" height="9" fill="#666"/><rect x="494" y="673" width="6" height="9" fill="#f00"/><rect x="506" y="673" width="2" height="9" fill="#666"/><rect x="508" y="673" width="1" height="9" fill="#666"/><rect x="509" y="673" width="5" height="9" fill="#f00"/><rect x="513" y="673" width="2" height="9" fill="#666"/><rect x="516" y="673" width="1" height="9" fill="#666"/><rect x="518" y="673" width="1" height="9" fill="#666"/><rect x="522" y="673" width="1" height="9" fill="#f00"/><rect x="534" y="673" width="3" height="9" fill="#666"/><rect x="538" y="673" width="5" height="9" fill="#666"/><rect x="549" y="673" width="1" height="9" fill="#666"/><rect x="552" y="673" width="1" height="9" fill="#666"/><rect x="557" y="673" width="4" height="9" fill="#666"/><rect x="566" y="673" width="2" height="9" fill="#666"/><rect x="573" y="673" width="1" height="9" fill="#666"/><rect x="579" y="673" width="3" height="9" fill="#666"/><rect x="586" y="673" width="1" height="9" fill="#666"/><rect x="598" y="673" width="3" height="9" fill="#666"/><rect x="605" y="673" width="3" height="9" fill="#f00"/><rect x="608" y="673" width="1" height="9" fill="#666"/><rect x="610" y="673" width="2" height="9" fill="#f00"/><rect x="612" y="673" width="3" height="9" fill="#666"/><rect x="616" y="673" width="5" height="9" fill="#666"/><rect x="627" y="673" width="1" height="9" fill="#666"/><rect x="629" y="673" width="1" height="9" fill="#f00"/><rect x="633" y="673" width="1" height="9" fill="#f00"/><rect x="647" y="673" width="3" height="9" fill="#666"/><rect x="650" y="673" width="4" height="9" fill="#f00"/><rect x="654" y="673" width="3" height="9" fill="#666"/><rect x="657" y="673" width="9" height="9" fill="#666"/><rect x="670" y="673" width="4" height="9" fill="#666"/><rect x="677" y="673" width="2" height="9" fill="#666"/><rect x="680" y="673" width="2" height="9" fill="#666"/><rect x="682" y="673" width="2" height="9" fill="#f00"/><rect x="685" y="673" width="1" height="9" fill="#666"/><rect x="687" y="673" width="2" height="9" fill="#00c"/><rect x="688" y="673" width="2" height="9" fill="#666"/><rect x="693" y="673" width="7" height="9" fill="#666"/><rect x="700" y="673" width="2" height="9" fill="#f00"/><rect x="702" y="673" width="2" height="9" fill="#f00"/><rect x="704" y="673" width="1" height="9" fill="#666"/><rect x="706" y="673" width="2" height="9" fill="#666"/><rect x="711" y="673" width="4" height="9" fill="#666"/><rect x="715" y="673" width="3" height="9" fill="#f00"/><rect x="724" y="673" width="1" height="9" fill="#666"/><rect x="727" y="673" width="1" height="9" fill="#666"/><rect x="731" y="673" width="2" height="9" fill="#666"/><rect x="734" y="673" width="5" height="9" fill="#666"/><rect x="744" y="673" width="1" height="9" fill="#666"/><rect x="747" y="673" width="1" height="9" fill="#666"/><rect x="749" y="673" width="1" height="9" fill="#f00"/><rect x="750" y="673" width="5" height="9" fill="#666"/><rect x="756" y="673" width="2" height="9" fill="#f00"/><rect x="759" y="673" width="1" height="9" fill="#666"/><rect x="762" y="673" width="2" height="9" fill="#666"/><rect x="767" y="673" width="2" height="9" fill="#666"/><rect x="770" y="673" width="1" height="9" fill="#666"/><rect x="775" y="673" width="2" height="9" fill="#f00"/><rect x="140" y="733" width="640" height="9" fill="#ffb0b0"/><rect x="140" y="733" width="15" height="9" fill="#ffb0b0"/><rect x="155" y="733" width="3" height="9" fill="#ffcccc"/><rect x="158" y="733" width="3" height="9" fill="#ffb0b0"/><rect x="161" y="733" width="10" height="9" fill="#ff8c8c"/><rect x="171" y="733" width="6" height="9" fill="#ffb0b0"/><rect x="177" y="733" width="7" height="9" fill="#ff7676"/><rect x="184" y="733" width="6" height="9" fill="#ff4848"/><rect x="190" y="733" width="10" height="9" fill="#ff7676"/><rect x="200" y="733" width="4" height="9" fill="#ffcccc"/><rect x="204" y="733" width="5" height="9" fill="#ffb0b0"/><rect x="209" y="733" width="7" height="9" fill="#ff7676"/><rect x="216" y="733" width="6" height="9" fill="#ffb0b0"/><rect x="222" y="733" width="3" height="9" fill="#ffcccc"/><rect x="225" y="733" width="13" height="9" fill="#ffb0b0"/><rect x="238" y="733" width="3" height="9" fill="#ffcccc"/><rect x="241" y="733" width="13" height="9" fill="#ff8c8c"/><rect x="254" y="733" width="29" height="9" fill="#ffb0b0"/><rect x="283" y="733" width="3" height="9" fill="#ff7676"/><rect x="286" y="733" width="2" height="9" fill="#ffcccc"/><rect x="288" y="733" width="14" height="9" fill="#ffb0b0"/><rect x="302" y="733" width="10" height="9" fill="#ffb0b0"/><rect x="312" y="733" width="6" height="9" fill="#ff8c8c"/><rect x="318" y="733" width="3" height="9" fill="#ffb0b0"/><rect x="321" y="733" width="10" height="9" fill="#ff8c8c"/><rect x="331" y="733" width="6" height="9" fill="#ffb0b0"/><rect x="337" y="733" width="13" height="9" fill="#ff8c8c"/><rect x="350" y="733" width="42" height="9" fill="#ffb0b0"/><rect x="392" y="733" width="6" height="9" fill="#ff7676"/><rect x="398" y="733" width="6" height="9" fill="#ffb0b0"/><rect x="404" y="733" width="10" height="9" fill="#ffcccc"/><rect x="414" y="733" width="3" height="9" fill="#ff7676"/><rect x="417" y="733" width="18" height="9" fill="#ffcccc"/><rect x="435" y="733" width="5" height="9" fill="#ffb0b0"/><rect x="440" y="733" width="10" height="9" fill="#ffcccc"/><rect x="450" y="733" width="6" height="9" fill="#ffb0b0"/><rect x="456" y="733" width="4" height="9" fill="#ffcccc"/><rect x="460" y="733" width="5" height="9" fill="#ffb0b0"/><rect x="465" y="733" width="7" height="9" fill="#ffcccc"/><rect x="472" y="733" width="6" height="9" fill="#ff8c8c"/><rect x="478" y="733" width="21" height="9" fill="#ffcccc"/><rect x="499" y="733" width="21" height="9" fill="#ffb0b0"/><rect x="520" y="733" width="16" height="9" fill="#ffb0b0"/><rect x="536" y="733" width="3" height="9" fill="#ff7676"/><rect x="539" y="733" width="9" height="9" fill="#ffcccc"/><rect x="548" y="733" width="4" height="9" fill="#ff7676"/><rect x="552" y="733" width="8" height="9" fill="#ffb0b0"/><rect x="560" y="733" width="17" height="9" fill="#ffb0b0"/><rect x="577" y="733" width="3" height="9" fill="#ff7676"/><rect x="580" y="733" width="13" height="9" fill="#ffb0b0"/><rect x="593" y="733" width="3" height="9" fill="#ff7676"/><rect x="596" y="733" width="4" height="9" fill="#ffb0b0"/><rect x="600" y="733" width="9" height="9" fill="#ff7676"/><rect x="609" y="733" width="11" height="9" fill="#ffb0b0"/><rect x="620" y="733" width="27" height="9" fill="#ffcccc"/><rect x="647" y="733" width="7" height="9" fill="#ffb0b0"/><rect x="654" y="733" width="3" height="9" fill="#ffcccc"/><rect x="657" y="733" width="3" height="9" fill="#ffb0b0"/><rect x="660" y="733" width="7" height="9" fill="#ffcccc"/><rect x="667" y="733" width="6" height="9" fill="#ffb0b0"/><rect x="673" y="733" width="3" height="9" fill="#ff7676"/><rect x="676" y="733" width="10" height="9" fill="#ffcccc"/><rect x="686" y="733" width="9" height="9" fill="#ff8c8c"/><rect x="695" y="733" width="4" height="9" fill="#ffb0b0"/><rect x="699" y="733" width="3" height="9" fill="#ff7676"/><rect x="702" y="733" width="13" height="9" fill="#ffb0b0"/><rect x="715" y="733" width="3" height="9" fill="#ff7676"/><rect x="718" y="733" width="6" height="9" fill="#ffb0b0"/><rect x="724" y="733" width="7" height="9" fill="#ff8c8c"/><rect x="731" y="733" width="22" height="9" fill="#ffb0b0"/><rect x="753" y="733" width="6" height="9" fill="#ffcccc"/><rect x="759" y="733" width="10" height="9" fill="#ffb0b0"/><rect x="769" y="733" width="6" height="9" fill="#ff8c8c"/><rect x="775" y="733" width="5" height="9" fill="#ffb0b0"/><rect x="140" y="748" width="640" height="9" fill="#ffb0b0"/><rect x="140" y="748" width="2" height="9" fill="#ff7676"/><rect x="142" y="748" width="6" height="9" fill="#ffb0b0"/><rect x="148" y="748" width="4" height="9" fill="#ff4848"/><rect x="152" y="748" width="3" height="9" fill="#ff8c8c"/><rect x="155" y="748" width="3" height="9" fill="#ffb0b0"/><rect x="158" y="748" width="3" height="9" fill="#ff2222"/><rect x="161" y="748" width="10" height="9" fill="#ff4848"/><rect x="171" y="748" width="3" height="9" fill="#ff2222"/><rect x="174" y="748" width="3" height="9" fill="#ff8c8c"/><rect x="177" y="748" width="3" height="9" fill="#ff2222"/><rect x="180" y="748" width="16" height="9" fill="#ff4848"/><rect x="196" y="748" width="4" height="9" fill="#ff8c8c"/><rect x="200" y="748" width="3" height="9" fill="#ffb0b0"/><rect x="203" y="748" width="6" height="9" fill="#ff4848"/><rect x="209" y="748" width="3" height="9" fill="#ff7676"/><rect x="212" y="748" width="7" height="9" fill="#ff4848"/><rect x="219" y="748" width="3" height="9" fill="#ff8c8c"/><rect x="222" y="748" width="10" height="9" fill="#ff4848"/><rect x="232" y="748" width="6" height="9" fill="#ff7676"/><rect x="238" y="748" width="3" height="9" fill="#ff2222"/><rect x="241" y="748" width="7" height="9" fill="#ff4848"/><rect x="248" y="748" width="6" height="9" fill="#ff7676"/><rect x="254" y="748" width="10" height="9" fill="#ff4848"/><rect x="264" y="748" width="6" height="9" fill="#ff8c8c"/><rect x="270" y="748" width="13" height="9" fill="#ff4848"/><rect x="283" y="748" width="9" height="9" fill="#ff7676"/><rect x="292" y="748" width="8" height="9" fill="#ffb0b0"/><rect x="300" y="748" width="2" height="9" fill="#ffb0b0"/><rect x="302" y="748" width="3" height="9" fill="#ff7676"/><rect x="305" y="748" width="16" height="9" fill="#ff4848"/><rect x="321" y="748" width="7" height="9" fill="#ff2222"/><rect x="328" y="748" width="6" height="9" fill="#ff4848"/><rect x="334" y="748" width="3" height="9" fill="#ffb0b0"/><rect x="337" y="748" width="3" height="9" fill="#ff2222"/><rect x="340" y="748" width="4" height="9" fill="#ff4848"/><rect x="344" y="748" width="3" height="9" fill="#ff2222"/><rect x="347" y="748" width="3" height="9" fill="#ff4848"/><rect x="350" y="748" width="3" height="9" fill="#ff8c8c"/><rect x="353" y="748" width="10" height="9" fill="#ff4848"/><rect x="363" y="748" width="13" height="9" fill="#ff7676"/><rect x="376" y="748" width="12" height="9" fill="#ff4848"/><rect x="388" y="748" width="4" height="9" fill="#ffb0b0"/><rect x="392" y="748" width="3" height="9" fill="#ff8c8c"/><rect x="395" y="748" width="3" height="9" fill="#ff4848"/><rect x="398" y="748" width="3" height="9" fill="#ff8c8c"/><rect x="401" y="748" width="3" height="9" fill="#ff4848"/><rect x="404" y="748" width="4" height="9" fill="#ffb0b0"/><rect x="408" y="748" width="6" height="9" fill="#ff7676"/><rect x="414" y="748" width="6" height="9" fill="#ff4848"/><rect x="420" y="748" width="4" height="9" fill="#ff7676"/><rect x="424" y="748" width="9" height="9" fill="#ffb0b0"/><rect x="433" y="748" width="7" height="9" fill="#ff7676"/><rect x="440" y="748" width="9" height="9" fill="#ffb0b0"/><rect x="449" y="748" width="3" height="9" fill="#ff7676"/><rect x="452" y="748" width="4" height="9" fill="#ffb0b0"/><rect x="456" y="748" width="4" height="9" fill="#ff4848"/><rect x="460" y="748" width="5" height="9" fill="#ff8c8c"/><rect x="465" y="748" width="3" height="9" fill="#ffb0b0"/><rect x="468" y="748" width="4" height="9" fill="#ff4848"/><rect x="472" y="748" width="6" height="9" fill="#ff7676"/><rect x="478" y="748" width="13" height="9" fill="#ffb0b0"/><rect x="491" y="748" width="3" height="9" fill="#ff7676"/><rect x="494" y="748" width="6" height="9" fill="#ff4848"/><rect x="500" y="748" width="7" height="9" fill="#ff8c8c"/><rect x="507" y="748" width="3" height="9" fill="#ff2222"/><rect x="510" y="748" width="3" height="9" fill="#ffb0b0"/><rect x="513" y="748" width="7" height="9" fill="#ff4848"/><rect x="520" y="748" width="6" height="9" fill="#ff8c8c"/><rect x="526" y="748" width="6" height="9" fill="#ff7676"/><rect x="532" y="748" width="7" height="9" fill="#ff4848"/><rect x="539" y="748" width="3" height="9" fill="#ffcccc"/><rect x="542" y="748" width="6" height="9" fill="#ff7676"/><rect x="548" y="748" width="4" height="9" fill="#ff4848"/><rect x="552" y="748" width="6" height="9" fill="#ff8c8c"/><rect x="558" y="748" width="3" height="9" fill="#ffb0b0"/><rect x="561" y="748" width="7" height="9" fill="#ff7676"/><rect x="568" y="748" width="3" height="9" fill="#ff4848"/><rect x="571" y="748" width="13" height="9" fill="#ff8c8c"/><rect x="584" y="748" width="6" height="9" fill="#ffb0b0"/><rect x="590" y="748" width="6" height="9" fill="#ff7676"/><rect x="596" y="748" width="4" height="9" fill="#ff4848"/><rect x="600" y="748" width="6" height="9" fill="#ff7676"/><rect x="606" y="748" width="3" height="9" fill="#ff4848"/><rect x="609" y="748" width="3" height="9" fill="#ff2222"/><rect x="612" y="748" width="4" height="9" fill="#ff4848"/><rect x="616" y="748" width="4" height="9" fill="#ff8c8c"/><rect x="620" y="748" width="15" height="9" fill="#ff7676"/><rect x="635" y="748" width="3" height="9" fill="#ffb0b0"/><rect x="638" y="748" width="3" height="9" fill="#ff7676"/><rect x="641" y="748" width="6" height="9" fill="#ffb0b0"/><rect x="647" y="748" width="7" height="9" fill="#ff4848"/><rect x="654" y="748" width="6" height="9" fill="#ff7676"/><rect x="660" y="748" width="10" height="9" fill="#ff4848"/><rect x="670" y="748" width="6" height="9" fill="#ff2222"/><rect x="676" y="748" width="3" height="9" fill="#ffcccc"/><rect x="679" y="748" width="10" height="9" fill="#ff4848"/><rect x="689" y="748" width="3" height="9" fill="#ff7676"/><rect x="692" y="748" width="19" height="9" fill="#ff4848"/><rect x="711" y="748" width="4" height="9" fill="#ff7676"/><rect x="715" y="748" width="16" height="9" fill="#ff4848"/><rect x="731" y="748" width="3" height="9" fill="#ff2222"/><rect x="734" y="748" width="3" height="9" fill="#ff4848"/><rect x="737" y="748" width="6" height="9" fill="#ff2222"/><rect x="743" y="748" width="4" height="9" fill="#ff7676"/><rect x="747" y="748" width="3" height="9" fill="#ff4848"/><rect x="750" y="748" width="3" height="9" fill="#ff7676"/><rect x="753" y="748" width="6" height="9" fill="#ff4848"/><rect x="759" y="748" width="4" height="9" fill="#ff7676"/><rect x="763" y="748" width="9" height="9" fill="#ff4848"/><rect x="772" y="748" width="3" height="9" fill="#ff2222"/><rect x="775" y="748" width="5" height="9" fill="#ff4848"/><rect x="140" y="793" width="640" height="9" fill="#ffb0b0"/><rect x="140" y="793" width="8" height="9" fill="#ffcccc"/><rect x="148" y="793" width="4" height="9" fill="#ffb0b0"/><rect x="152" y="793" width="9" height="9" fill="#ff8c8c"/><rect x="161" y="793" width="3" height="9" fill="#ffb0b0"/><rect x="164" y="793" width="4" height="9" fill="#ff8c8c"/><rect x="168" y="793" width="3" height="9" fill="#ffb0b0"/><rect x="171" y="793" width="3" height="9" fill="#ff4848"/><rect x="174" y="793" width="3" height="9" fill="#ffb0b0"/><rect x="177" y="793" width="3" height="9" fill="#ff8c8c"/><rect x="180" y="793" width="4" height="9" fill="#ffb0b0"/><rect x="184" y="793" width="3" height="9" fill="#ff7676"/><rect x="187" y="793" width="13" height="9" fill="#ffb0b0"/><rect x="200" y="793" width="6" height="9" fill="#ffcccc"/><rect x="206" y="793" width="6" height="9" fill="#ffb0b0"/><rect x="212" y="793" width="7" height="9" fill="#ff8c8c"/><rect x="219" y="793" width="3" height="9" fill="#ff4848"/><rect x="222" y="793" width="6" height="9" fill="#ff8c8c"/><rect x="228" y="793" width="10" height="9" fill="#ffb0b0"/><rect x="238" y="793" width="6" height="9" fill="#ff4848"/><rect x="244" y="793" width="10" height="9" fill="#ffcccc"/><rect x="254" y="793" width="10" height="9" fill="#ffb0b0"/><rect x="264" y="793" width="3" height="9" fill="#ff7676"/><rect x="267" y="793" width="3" height="9" fill="#ffb0b0"/><rect x="270" y="793" width="3" height="9" fill="#ff7676"/><rect x="273" y="793" width="3" height="9" fill="#ffb0b0"/><rect x="276" y="793" width="4" height="9" fill="#ff7676"/><rect x="280" y="793" width="8" height="9" fill="#ffb0b0"/><rect x="288" y="793" width="12" height="9" fill="#ffcccc"/><rect x="300" y="793" width="21" height="9" fill="#ffb0b0"/><rect x="321" y="793" width="7" height="9" fill="#ff8c8c"/><rect x="328" y="793" width="6" height="9" fill="#ffb0b0"/><rect x="334" y="793" width="6" height="9" fill="#ff7676"/><rect x="340" y="793" width="8" height="9" fill="#ff2222"/><rect x="348" y="793" width="5" height="9" fill="#ffb0b0"/><rect x="353" y="793" width="10" height="9" fill="#ff8c8c"/><rect x="363" y="793" width="4" height="9" fill="#ffb0b0"/><rect x="367" y="793" width="2" height="9" fill="#ff7676"/><rect x="369" y="793" width="7" height="9" fill="#ffb0b0"/><rect x="376" y="793" width="3" height="9" fill="#ff8c8c"/><rect x="379" y="793" width="3" height="9" fill="#ffb0b0"/><rect x="382" y="793" width="5" height="9" fill="#ff4848"/><rect x="387" y="793" width="4" height="9" fill="#ffb0b0"/><rect x="391" y="793" width="6" height="9" fill="#ff4848"/><rect x="397" y="793" width="17" height="9" fill="#ffb0b0"/><rect x="414" y="793" width="6" height="9" fill="#ff8c8c"/><rect x="420" y="793" width="6" height="9" fill="#ffcccc"/><rect x="426" y="793" width="68" height="9" fill="#ffb0b0"/><rect x="494" y="793" width="6" height="9" fill="#ff7676"/><rect x="500" y="793" width="20" height="9" fill="#ffb0b0"/><rect x="520" y="793" width="12" height="9" fill="#ffb0b0"/><rect x="532" y="793" width="7" height="9" fill="#ff7676"/><rect x="539" y="793" width="7" height="9" fill="#ffb0b0"/><rect x="546" y="793" width="10" height="9" fill="#ffb0b0"/><rect x="556" y="793" width="5" height="9" fill="#ffcccc"/><rect x="561" y="793" width="16" height="9" fill="#ffb0b0"/><rect x="577" y="793" width="3" height="9" fill="#ff7676"/><rect x="580" y="793" width="9" height="9" fill="#ffcccc"/><rect x="589" y="793" width="17" height="9" fill="#ffb0b0"/><rect x="606" y="793" width="9" height="9" fill="#ff7676"/><rect x="615" y="793" width="22" height="9" fill="#ffb0b0"/><rect x="637" y="793" width="9" height="9" fill="#ffcccc"/><rect x="646" y="793" width="20" height="9" fill="#ffb0b0"/><rect x="666" y="793" width="7" height="9" fill="#ff7676"/><rect x="673" y="793" width="3" height="9" fill="#ff4848"/><rect x="676" y="793" width="11" height="9" fill="#ffb0b0"/><rect x="687" y="793" width="4" height="9" fill="#ff7676"/><rect x="691" y="793" width="4" height="9" fill="#ff2222"/><rect x="695" y="793" width="19" height="9" fill="#ff7676"/><rect x="714" y="793" width="9" height="9" fill="#ff8c8c"/><rect x="723" y="793" width="4" height="9" fill="#ff2222"/><rect x="727" y="793" width="9" height="9" fill="#ff8c8c"/><rect x="736" y="793" width="3" height="9" fill="#ff4848"/><rect x="739" y="793" width="11" height="9" fill="#ffb0b0"/><rect x="750" y="793" width="6" height="9" fill="#ff8c8c"/><rect x="756" y="793" width="7" height="9" fill="#ffb0b0"/><rect x="763" y="793" width="8" height="9" fill="#ff7676"/><rect x="771" y="793" width="9" height="9" fill="#ff8c8c"/><rect x="140" y="858" width="640" height="9" fill="#ffb0b0"/><rect x="140" y="858" width="7" height="9" fill="#ffcccc"/><rect x="147" y="858" width="11" height="9" fill="#ffb0b0"/><rect x="158" y="858" width="3" height="9" fill="#ff7676"/><rect x="161" y="858" width="7" height="9" fill="#ffb0b0"/><rect x="168" y="858" width="2" height="9" fill="#ff7676"/><rect x="170" y="858" width="3" height="9" fill="#ff4848"/><rect x="173" y="858" width="4" height="9" fill="#ff7676"/><rect x="177" y="858" width="3" height="9" fill="#ffb0b0"/><rect x="180" y="858" width="9" height="9" fill="#ff8c8c"/><rect x="189" y="858" width="17" height="9" fill="#ffb0b0"/><rect x="206" y="858" width="3" height="9" fill="#ff7676"/><rect x="209" y="858" width="6" height="9" fill="#ffb0b0"/><rect x="215" y="858" width="9" height="9" fill="#ff4848"/><rect x="224" y="858" width="13" height="9" fill="#ffb0b0"/><rect x="237" y="858" width="6" height="9" fill="#ff4848"/><rect x="243" y="858" width="11" height="9" fill="#ffcccc"/><rect x="254" y="858" width="12" height="9" fill="#ffb0b0"/><rect x="266" y="858" width="3" height="9" fill="#ffb0b0"/><rect x="269" y="858" width="10" height="9" fill="#ff8c8c"/><rect x="279" y="858" width="8" height="9" fill="#ffb0b0"/><rect x="287" y="858" width="10" height="9" fill="#ffcccc"/><rect x="297" y="858" width="11" height="9" fill="#ffcccc"/><rect x="308" y="858" width="12" height="9" fill="#ffb0b0"/><rect x="320" y="858" width="7" height="9" fill="#ff7676"/><rect x="327" y="858" width="3" height="9" fill="#ffb0b0"/><rect x="330" y="858" width="9" height="9" fill="#ff7676"/><rect x="339" y="858" width="8" height="9" fill="#ff2222"/><rect x="347" y="858" width="6" height="9" fill="#ffb0b0"/><rect x="353" y="858" width="9" height="9" fill="#ff8c8c"/><rect x="362" y="858" width="3" height="9" fill="#ffb0b0"/><rect x="365" y="858" width="4" height="9" fill="#ff7676"/><rect x="369" y="858" width="14" height="9" fill="#ffb0b0"/><rect x="383" y="858" width="9" height="9" fill="#ffb0b0"/><rect x="392" y="858" width="3" height="9" fill="#ff4848"/><rect x="395" y="858" width="7" height="9" fill="#ff7676"/><rect x="402" y="858" width="11" height="9" fill="#ffb0b0"/><rect x="413" y="858" width="7" height="9" fill="#ff4848"/><rect x="420" y="858" width="15" height="9" fill="#ffb0b0"/><rect x="435" y="858" width="5" height="9" fill="#ffb0b0"/><rect x="440" y="858" width="15" height="9" fill="#ffb0b0"/><rect x="455" y="858" width="4" height="9" fill="#ff7676"/><rect x="459" y="858" width="17" height="9" fill="#ffcccc"/><rect x="476" y="858" width="18" height="9" fill="#ffb0b0"/><rect x="494" y="858" width="3" height="9" fill="#ff2222"/><rect x="497" y="858" width="22" height="9" fill="#ffb0b0"/><rect x="519" y="858" width="11" height="9" fill="#ffb0b0"/><rect x="530" y="858" width="7" height="9" fill="#ff7676"/><rect x="537" y="858" width="11" height="9" fill="#ffb0b0"/><rect x="548" y="858" width="4" height="9" fill="#ff7676"/><rect x="552" y="858" width="8" height="9" fill="#ffb0b0"/><rect x="560" y="858" width="3" height="9" fill="#ffcccc"/><rect x="563" y="858" width="7" height="9" fill="#ff7676"/><rect x="570" y="858" width="6" height="9" fill="#ffb0b0"/><rect x="576" y="858" width="8" height="9" fill="#ff7676"/><rect x="584" y="858" width="2" height="9" fill="#ffb0b0"/><rect x="586" y="858" width="4" height="9" fill="#ffcccc"/><rect x="590" y="858" width="12" height="9" fill="#ffb0b0"/><rect x="602" y="858" width="4" height="9" fill="#ff8c8c"/><rect x="606" y="858" width="3" height="9" fill="#ff4848"/><rect x="609" y="858" width="6" height="9" fill="#ff8c8c"/><rect x="615" y="858" width="5" height="9" fill="#ffb0b0"/><rect x="620" y="858" width="24" height="9" fill="#ffcccc"/><rect x="644" y="858" width="7" height="9" fill="#ffcccc"/><rect x="651" y="858" width="15" height="9" fill="#ffb0b0"/><rect x="666" y="858" width="4" height="9" fill="#ff8c8c"/><rect x="670" y="858" width="6" height="9" fill="#ff4848"/><rect x="676" y="858" width="3" height="9" fill="#ffcccc"/><rect x="679" y="858" width="7" height="9" fill="#ff8c8c"/><rect x="686" y="858" width="3" height="9" fill="#ff2222"/><rect x="689" y="858" width="2" height="9" fill="#ff8c8c"/><rect x="691" y="858" width="4" height="9" fill="#ff2222"/><rect x="695" y="858" width="4" height="9" fill="#ffb0b0"/><rect x="699" y="858" width="6" height="9" fill="#ff8c8c"/><rect x="705" y="858" width="2" height="9" fill="#ff7676"/><rect x="707" y="858" width="8" height="9" fill="#ffb0b0"/><rect x="715" y="858" width="9" height="9" fill="#ff8c8c"/><rect x="724" y="858" width="3" height="9" fill="#ff2222"/><rect x="727" y="858" width="10" height="9" fill="#ff7676"/><rect x="737" y="858" width="3" height="9" fill="#ff4848"/><rect x="740" y="858" width="5" height="9" fill="#ffb0b0"/><rect x="745" y="858" width="5" height="9" fill="#ff7676"/><rect x="750" y="858" width="6" height="9" fill="#ffb0b0"/><rect x="756" y="858" width="3" height="9" fill="#ff7676"/><rect x="759" y="858" width="12" height="9" fill="#ffb0b0"/><rect x="771" y="858" width="4" height="9" fill="#ff2222"/><rect x="775" y="858" width="5" height="9" fill="#ffb0b0"/><rect x="140" y="923" width="640" height="9" fill="#ffb0b0"/><rect x="140" y="923" width="7" height="9" fill="#ffcccc"/><rect x="147" y="923" width="11" height="9" fill="#ffb0b0"/><rect x="158" y="923" width="3" height="9" fill="#ff7676"/><rect x="161" y="923" width="7" height="9" fill="#ffb0b0"/><rect x="168" y="923" width="2" height="9" fill="#ff7676"/><rect x="170" y="923" width="3" height="9" fill="#ff4848"/><rect x="173" y="923" width="4" height="9" fill="#ff7676"/><rect x="177" y="923" width="3" height="9" fill="#ffb0b0"/><rect x="180" y="923" width="9" height="9" fill="#ff8c8c"/><rect x="189" y="923" width="17" height="9" fill="#ffb0b0"/><rect x="206" y="923" width="3" height="9" fill="#ff7676"/><rect x="209" y="923" width="6" height="9" fill="#ffb0b0"/><rect x="215" y="923" width="9" height="9" fill="#ff4848"/><rect x="224" y="923" width="13" height="9" fill="#ffb0b0"/><rect x="237" y="923" width="6" height="9" fill="#ff4848"/><rect x="243" y="923" width="11" height="9" fill="#ffcccc"/><rect x="254" y="923" width="12" height="9" fill="#ffb0b0"/><rect x="266" y="923" width="3" height="9" fill="#ffb0b0"/><rect x="269" y="923" width="10" height="9" fill="#ff8c8c"/><rect x="279" y="923" width="8" height="9" fill="#ffb0b0"/><rect x="287" y="923" width="10" height="9" fill="#ffcccc"/><rect x="297" y="923" width="11" height="9" fill="#ffcccc"/><rect x="308" y="923" width="12" height="9" fill="#ffb0b0"/><rect x="320" y="923" width="7" height="9" fill="#ff7676"/><rect x="327" y="923" width="3" height="9" fill="#ffb0b0"/><rect x="330" y="923" width="9" height="9" fill="#ff7676"/><rect x="339" y="923" width="8" height="9" fill="#ff2222"/><rect x="347" y="923" width="6" height="9" fill="#ffb0b0"/><rect x="353" y="923" width="9" height="9" fill="#ff8c8c"/><rect x="362" y="923" width="3" height="9" fill="#ffb0b0"/><rect x="365" y="923" width="4" height="9" fill="#ff7676"/><rect x="369" y="923" width="14" height="9" fill="#ffb0b0"/><rect x="383" y="923" width="9" height="9" fill="#ffb0b0"/><rect x="392" y="923" width="3" height="9" fill="#ff4848"/><rect x="395" y="923" width="7" height="9" fill="#ff7676"/><rect x="402" y="923" width="11" height="9" fill="#ffb0b0"/><rect x="413" y="923" width="7" height="9" fill="#ff4848"/><rect x="420" y="923" width="15" height="9" fill="#ffb0b0"/><rect x="435" y="923" width="5" height="9" fill="#ffb0b0"/><rect x="440" y="923" width="15" height="9" fill="#ffb0b0"/><rect x="455" y="923" width="4" height="9" fill="#ff7676"/><rect x="459" y="923" width="17" height="9" fill="#ffcccc"/><rect x="476" y="923" width="18" height="9" fill="#ffb0b0"/><rect x="494" y="923" width="3" height="9" fill="#ff2222"/><rect x="497" y="923" width="22" height="9" fill="#ffb0b0"/><rect x="519" y="923" width="11" height="9" fill="#ffb0b0"/><rect x="530" y="923" width="7" height="9" fill="#ff7676"/><rect x="537" y="923" width="11" height="9" fill="#ffb0b0"/><rect x="548" y="923" width="4" height="9" fill="#ff7676"/><rect x="552" y="923" width="8" height="9" fill="#ffb0b0"/><rect x="560" y="923" width="3" height="9" fill="#ffcccc"/><rect x="563" y="923" width="7" height="9" fill="#ff7676"/><rect x="570" y="923" width="6" height="9" fill="#ffb0b0"/><rect x="576" y="923" width="8" height="9" fill="#ff7676"/><rect x="584" y="923" width="2" height="9" fill="#ffb0b0"/><rect x="586" y="923" width="4" height="9" fill="#ffcccc"/><rect x="590" y="923" width="12" height="9" fill="#ffb0b0"/><rect x="602" y="923" width="4" height="9" fill="#ff8c8c"/><rect x="606" y="923" width="3" height="9" fill="#ff4848"/><rect x="609" y="923" width="6" height="9" fill="#ff8c8c"/><rect x="615" y="923" width="5" height="9" fill="#ffb0b0"/><rect x="620" y="923" width="24" height="9" fill="#ffcccc"/><rect x="644" y="923" width="7" height="9" fill="#ffcccc"/><rect x="651" y="923" width="15" height="9" fill="#ffb0b0"/><rect x="666" y="923" width="4" height="9" fill="#ff8c8c"/><rect x="670" y="923" width="6" height="9" fill="#ff4848"/><rect x="676" y="923" width="3" height="9" fill="#ffcccc"/><rect x="679" y="923" width="7" height="9" fill="#ff8c8c"/><rect x="686" y="923" width="3" height="9" fill="#ff2222"/><rect x="689" y="923" width="2" height="9" fill="#ff8c8c"/><rect x="691" y="923" width="4" height="9" fill="#ff2222"/><rect x="695" y="923" width="4" height="9" fill="#ffb0b0"/><rect x="699" y="923" width="6" height="9" fill="#ff8c8c"/><rect x="705" y="923" width="2" height="9" fill="#ff7676"/><rect x="707" y="923" width="8" height="9" fill="#ffb0b0"/><rect x="715" y="923" width="9" height="9" fill="#ff8c8c"/><rect x="724" y="923" width="3" height="9" fill="#ff2222"/><rect x="727" y="923" width="10" height="9" fill="#ff7676"/><rect x="737" y="923" width="3" height="9" fill="#ff4848"/><rect x="740" y="923" width="5" height="9" fill="#ffb0b0"/><rect x="745" y="923" width="5" height="9" fill="#ff7676"/><rect x="750" y="923" width="6" height="9" fill="#ffb0b0"/><rect x="756" y="923" width="3" height="9" fill="#ff7676"/><rect x="759" y="923" width="12" height="9" fill="#ffb0b0"/><rect x="771" y="923" width="4" height="9" fill="#ff2222"/><rect x="775" y="923" width="5" height="9" fill="#ffb0b0"/><rect x="140" y="761" width="6" height="14.600000000000023" fill="#1414ff"/><rect x="146" y="761" width="3" height="13.0" fill="#2e2eff"/><rect x="149" y="761" width="3" height="12.0" fill="#4848ff"/><rect x="152" y="761" width="3" height="11.0" fill="#4848ff"/><rect x="155" y="761" width="3" height="8.0" fill="#6a6aff"/><rect x="158" y="761" width="3" height="16.0" fill="#0000e6"/><rect x="161" y="761" width="3" height="17.600000000000023" fill="#0000e6"/><rect x="164" y="761" width="8" height="14.600000000000023" fill="#2e2eff"/><rect x="172" y="761" width="8" height="14.600000000000023" fill="#2e2eff"/><rect x="180" y="761" width="4" height="17.600000000000023" fill="#0000e6"/><rect x="184" y="761" width="8" height="13.0" fill="#2e2eff"/><rect x="192" y="761" width="8" height="13.0" fill="#1414ff"/><rect x="200" y="761" width="4" height="14.0" fill="#4848ff"/><rect x="204" y="761" width="6" height="12.600000000000023" fill="#2e2eff"/><rect x="210" y="761" width="6" height="12.600000000000023" fill="#4848ff"/><rect x="216" y="761" width="4" height="15.399999999999977" fill="#1414ff"/><rect x="220" y="761" width="2" height="7.0" fill="#8c8cff"/><rect x="222" y="761" width="12" height="14.600000000000023" fill="#0000e6"/><rect x="234" y="761" width="12" height="15.399999999999977" fill="#1414ff"/><rect x="246" y="761" width="8" height="16.0" fill="#2e2eff"/><rect x="254" y="761" width="10" height="17.600000000000023" fill="#0000e6"/><rect x="264" y="761" width="4" height="13.0" fill="#4848ff"/><rect x="268" y="761" width="12" height="16.600000000000023" fill="#1414ff"/><rect x="280" y="761" width="3" height="13.0" fill="#6a6aff"/><rect x="283" y="761" width="4" height="16.0" fill="#1414ff"/><rect x="287" y="761" width="5" height="14.0" fill="#2e2eff"/><rect x="292" y="761" width="8" height="14.0" fill="#1414ff"/><rect x="300" y="761" width="5" height="9.0" fill="#6a6aff"/><rect x="305" y="761" width="5" height="13.0" fill="#4848ff"/><rect x="310" y="761" width="6" height="15.0" fill="#1414ff"/><rect x="316" y="761" width="4" height="16.0" fill="#1414ff"/><rect x="320" y="761" width="4" height="17.600000000000023" fill="#0000e6"/><rect x="324" y="761" width="12" height="15.0" fill="#1414ff"/><rect x="336" y="761" width="4" height="11.0" fill="#6a6aff"/><rect x="340" y="761" width="6" height="14.0" fill="#2e2eff"/><rect x="346" y="761" width="4" height="10.0" fill="#6a6aff"/><rect x="350" y="761" width="2" height="11.0" fill="#4848ff"/><rect x="352" y="761" width="8" height="16.0" fill="#0000e6"/><rect x="360" y="761" width="6" height="15.0" fill="#1414ff"/><rect x="366" y="761" width="4" height="14.0" fill="#2e2eff"/><rect x="370" y="761" width="6" height="16.0" fill="#1414ff"/><rect x="376" y="761" width="4" height="15.0" fill="#2e2eff"/><rect x="380" y="761" width="6" height="17.600000000000023" fill="#0000e6"/><rect x="386" y="761" width="4" height="11.0" fill="#4848ff"/><rect x="390" y="761" width="4" height="16.0" fill="#1414ff"/><rect x="394" y="761" width="4" height="15.0" fill="#2e2eff"/><rect x="398" y="761" width="4" height="11.0" fill="#6a6aff"/><rect x="402" y="761" width="8" height="14.0" fill="#1414ff"/><rect x="410" y="761" width="4" height="16.0" fill="#1414ff"/><rect x="414" y="761" width="4" height="17.600000000000023" fill="#0000e6"/><rect x="418" y="761" width="10" height="15.0" fill="#1414ff"/><rect x="428" y="761" width="8" height="12.0" fill="#4848ff"/><rect x="436" y="761" width="4" height="9.0" fill="#6a6aff"/><rect x="440" y="761" width="4" height="14.0" fill="#2e2eff"/><rect x="444" y="761" width="4" height="16.0" fill="#1414ff"/><rect x="448" y="761" width="4" height="15.0" fill="#1414ff"/><rect x="452" y="761" width="4" height="14.0" fill="#2e2eff"/><rect x="456" y="761" width="4" height="16.0" fill="#1414ff"/><rect x="460" y="761" width="2" height="15.0" fill="#1414ff"/><rect x="462" y="761" width="6" height="13.0" fill="#2e2eff"/><rect x="468" y="761" width="4" height="15.399999999999977" fill="#0000e6"/><rect x="472" y="761" width="4" height="14.0" fill="#1414ff"/><rect x="476" y="761" width="4" height="13.0" fill="#2e2eff"/><rect x="480" y="761" width="3" height="11.399999999999977" fill="#4848ff"/><rect x="483" y="761" width="8" height="10.5" fill="#2e2eff"/><rect x="491" y="761" width="5" height="12.600000000000023" fill="#4848ff"/><rect x="496" y="761" width="2" height="10.5" fill="#4848ff"/><rect x="498" y="761" width="9" height="14.0" fill="#1414ff"/><rect x="507" y="761" width="4" height="15.399999999999977" fill="#2e2eff"/><rect x="511" y="761" width="2" height="13.0" fill="#4848ff"/><rect x="513" y="761" width="7" height="16.600000000000023" fill="#0000e6"/><rect x="520" y="761" width="9" height="13.0" fill="#1414ff"/><rect x="529" y="761" width="4" height="15.399999999999977" fill="#1414ff"/><rect x="533" y="761" width="7" height="13.0" fill="#2e2eff"/><rect x="540" y="761" width="2" height="5.0" fill="#8c8cff"/><rect x="542" y="761" width="6" height="10.0" fill="#6a6aff"/><rect x="548" y="761" width="4" height="16.600000000000023" fill="#0000e6"/><rect x="552" y="761" width="4" height="11.399999999999977" fill="#2e2eff"/><rect x="556" y="761" width="3" height="10.0" fill="#4848ff"/><rect x="559" y="761" width="2" height="8.0" fill="#6a6aff"/><rect x="561" y="761" width="5" height="16.600000000000023" fill="#0000e6"/><rect x="566" y="761" width="6" height="14.600000000000023" fill="#1414ff"/><rect x="572" y="761" width="8" height="13.0" fill="#2e2eff"/><rect x="580" y="761" width="8" height="15.399999999999977" fill="#1414ff"/><rect x="588" y="761" width="4" height="16.600000000000023" fill="#0000e6"/><rect x="592" y="761" width="5" height="14.0" fill="#2e2eff"/><rect x="597" y="761" width="7" height="12.0" fill="#4848ff"/><rect x="604" y="761" width="5" height="15.399999999999977" fill="#1414ff"/><rect x="609" y="761" width="5" height="14.0" fill="#2e2eff"/><rect x="614" y="761" width="6" height="12.0" fill="#4848ff"/><rect x="620" y="761" width="5" height="12.600000000000023" fill="#4848ff"/><rect x="625" y="761" width="4" height="17.0" fill="#0000e6"/><rect x="629" y="761" width="15" height="15.399999999999977" fill="#1414ff"/><rect x="644" y="761" width="7" height="15.0" fill="#2e2eff"/><rect x="651" y="761" width="5" height="15.399999999999977" fill="#1414ff"/><rect x="656" y="761" width="4" height="14.600000000000023" fill="#2e2eff"/><rect x="660" y="761" width="6" height="10.600000000000023" fill="#6a6aff"/><rect x="666" y="761" width="4" height="15.0" fill="#2e2eff"/><rect x="670" y="761" width="6" height="16.600000000000023" fill="#0000e6"/><rect x="676" y="761" width="2" height="13.0" fill="#4848ff"/><rect x="678" y="761" width="10" height="12.0" fill="#6a6aff"/><rect x="688" y="761" width="7" height="13.0" fill="#2e2eff"/><rect x="695" y="761" width="5" height="17.399999999999977" fill="#0000e6"/><rect x="700" y="761" width="6" height="15.0" fill="#1414ff"/><rect x="706" y="761" width="9" height="12.600000000000023" fill="#2e2eff"/><rect x="715" y="761" width="4" height="17.399999999999977" fill="#0000e6"/><rect x="719" y="761" width="7" height="14.600000000000023" fill="#2e2eff"/><rect x="726" y="761" width="8" height="14.0" fill="#2e2eff"/><rect x="734" y="761" width="14" height="16.600000000000023" fill="#1414ff"/><rect x="748" y="761" width="4" height="12.0" fill="#4848ff"/><rect x="752" y="761" width="6" height="10.600000000000023" fill="#6a6aff"/><rect x="758" y="761" width="6" height="17.399999999999977" fill="#0000e6"/><rect x="764" y="761" width="8" height="16.600000000000023" fill="#1414ff"/><rect x="772" y="761" width="4" height="13.0" fill="#4848ff"/><rect x="776" y="761" width="4" height="14.600000000000023" fill="#2e2eff"/><rect x="140" y="805" width="4" height="12" fill="#8a8aff"/><rect x="144" y="805" width="8" height="11" fill="#8a8aff"/><rect x="152" y="805" width="5" height="12" fill="#8a8aff"/><rect x="157" y="805" width="6" height="13" fill="#8a8aff"/><rect x="163" y="805" width="8" height="10" fill="#8a8aff"/><rect x="171" y="805" width="8" height="10" fill="#8a8aff"/><rect x="179" y="805" width="6" height="11" fill="#8a8aff"/><rect x="185" y="805" width="8" height="11" fill="#8a8aff"/><rect x="193" y="805" width="4" height="13" fill="#8a8aff"/><rect x="197" y="805" width="6" height="12" fill="#8a8aff"/><rect x="203" y="805" width="8" height="12" fill="#8a8aff"/><rect x="211" y="805" width="6" height="13" fill="#8a8aff"/><rect x="217" y="805" width="4" height="11" fill="#8a8aff"/><rect x="221" y="805" width="10" height="11" fill="#8a8aff"/><rect x="231" y="805" width="8" height="12" fill="#8a8aff"/><rect x="239" y="805" width="10" height="10" fill="#8a8aff"/><rect x="249" y="805" width="10" height="10" fill="#8a8aff"/><rect x="259" y="805" width="4" height="12" fill="#8a8aff"/><rect x="263" y="805" width="3" height="11" fill="#8a8aff"/><rect x="266" y="805" width="3" height="11" fill="#8a8aff"/><rect x="269" y="805" width="6" height="12" fill="#8a8aff"/><rect x="275" y="805" width="10" height="12" fill="#8a8aff"/><rect x="285" y="805" width="10" height="12" fill="#8a8aff"/><rect x="295" y="805" width="6" height="13" fill="#8a8aff"/><rect x="301" y="805" width="8" height="12" fill="#8a8aff"/><rect x="309" y="805" width="4" height="11" fill="#8a8aff"/><rect x="313" y="805" width="3" height="10" fill="#8a8aff"/><rect x="316" y="805" width="4" height="12" fill="#8a8aff"/><rect x="320" y="805" width="4" height="11" fill="#8a8aff"/><rect x="324" y="805" width="10" height="12" fill="#8a8aff"/><rect x="334" y="805" width="10" height="11" fill="#8a8aff"/><rect x="344" y="805" width="6" height="12" fill="#8a8aff"/><rect x="350" y="805" width="6" height="12" fill="#8a8aff"/><rect x="356" y="805" width="5" height="12" fill="#8a8aff"/><rect x="361" y="805" width="8" height="12" fill="#8a8aff"/><rect x="369" y="805" width="8" height="11" fill="#8a8aff"/><rect x="377" y="805" width="5" height="13" fill="#8a8aff"/><rect x="382" y="805" width="3" height="11" fill="#8a8aff"/><rect x="385" y="805" width="8" height="13" fill="#8a8aff"/><rect x="393" y="805" width="10" height="11" fill="#8a8aff"/><rect x="403" y="805" width="10" height="11" fill="#8a8aff"/><rect x="413" y="805" width="8" height="12" fill="#8a8aff"/><rect x="421" y="805" width="8" height="10" fill="#8a8aff"/><rect x="429" y="805" width="10" height="13" fill="#8a8aff"/><rect x="439" y="805" width="4" height="13" fill="#8a8aff"/><rect x="443" y="805" width="8" height="11" fill="#8a8aff"/><rect x="451" y="805" width="5" height="10" fill="#8a8aff"/><rect x="456" y="805" width="3" height="12" fill="#8a8aff"/><rect x="459" y="805" width="10" height="12" fill="#8a8aff"/><rect x="469" y="805" width="3" height="11" fill="#8a8aff"/><rect x="472" y="805" width="3" height="12" fill="#8a8aff"/><rect x="475" y="805" width="4" height="10" fill="#8a8aff"/><rect x="479" y="805" width="5" height="12" fill="#8a8aff"/><rect x="484" y="805" width="6" height="10" fill="#8a8aff"/><rect x="490" y="805" width="3" height="12" fill="#8a8aff"/><rect x="493" y="805" width="8" height="10" fill="#8a8aff"/><rect x="501" y="805" width="6" height="13" fill="#8a8aff"/><rect x="507" y="805" width="8" height="11" fill="#8a8aff"/><rect x="515" y="805" width="8" height="11" fill="#8a8aff"/><rect x="523" y="805" width="8" height="11" fill="#8a8aff"/><rect x="531" y="805" width="3" height="11" fill="#8a8aff"/><rect x="534" y="805" width="3" height="10" fill="#8a8aff"/><rect x="537" y="805" width="3" height="12" fill="#8a8aff"/><rect x="540" y="805" width="8" height="10" fill="#8a8aff"/><rect x="548" y="805" width="4" height="12" fill="#8a8aff"/><rect x="552" y="805" width="5" height="12" fill="#8a8aff"/><rect x="557" y="805" width="5" height="11" fill="#8a8aff"/><rect x="562" y="805" width="10" height="10" fill="#8a8aff"/><rect x="572" y="805" width="5" height="11" fill="#8a8aff"/><rect x="577" y="805" width="5" height="11" fill="#8a8aff"/><rect x="582" y="805" width="6" height="12" fill="#8a8aff"/><rect x="588" y="805" width="6" height="12" fill="#8a8aff"/><rect x="594" y="805" width="6" height="13" fill="#8a8aff"/><rect x="600" y="805" width="8" height="13" fill="#8a8aff"/><rect x="608" y="805" width="8" height="10" fill="#8a8aff"/><rect x="616" y="805" width="8" height="12" fill="#8a8aff"/><rect x="624" y="805" width="5" height="12" fill="#8a8aff"/><rect x="629" y="805" width="10" height="13" fill="#8a8aff"/><rect x="639" y="805" width="10" height="11" fill="#8a8aff"/><rect x="649" y="805" width="5" height="12" fill="#8a8aff"/><rect x="654" y="805" width="5" height="12" fill="#8a8aff"/><rect x="659" y="805" width="5" height="12" fill="#8a8aff"/><rect x="664" y="805" width="5" height="10" fill="#8a8aff"/><rect x="669" y="805" width="6" height="12" fill="#8a8aff"/><rect x="675" y="805" width="5" height="10" fill="#8a8aff"/><rect x="680" y="805" width="6" height="12" fill="#8a8aff"/><rect x="686" y="805" width="8" height="13" fill="#8a8aff"/><rect x="694" y="805" width="4" height="10" fill="#8a8aff"/><rect x="698" y="805" width="10" height="13" fill="#8a8aff"/><rect x="708" y="805" width="5" height="12" fill="#8a8aff"/><rect x="713" y="805" width="5" height="13" fill="#8a8aff"/><rect x="718" y="805" width="5" height="12" fill="#8a8aff"/><rect x="723" y="805" width="10" height="11" fill="#8a8aff"/><rect x="733" y="805" width="10" height="12" fill="#8a8aff"/><rect x="743" y="805" width="3" height="12" fill="#8a8aff"/><rect x="746" y="805" width="3" height="13" fill="#8a8aff"/><rect x="749" y="805" width="3" height="11" fill="#8a8aff"/><rect x="752" y="805" width="5" height="13" fill="#8a8aff"/><rect x="757" y="805" width="6" height="11" fill="#8a8aff"/><rect x="763" y="805" width="8" height="12" fill="#8a8aff"/><rect x="771" y="805" width="5" height="11" fill="#8a8aff"/><rect x="776" y="805" width="4" height="11" fill="#8a8aff"/><rect x="178" y="805" width="2" height="10" fill="#a4a4ff"/><rect x="228" y="805" width="6" height="10" fill="#a4a4ff"/><rect x="342" y="805" width="6" height="10" fill="#a4a4ff"/><rect x="620" y="805" width="44" height="10" fill="#9c9cff"/><rect x="752" y="805" width="12" height="10" fill="#9c9cff"/><rect x="196" y="805" width="4" height="15" fill="#6c6cff"/><rect x="296" y="805" width="3" height="17" fill="#6060ff"/><rect x="444" y="805" width="3" height="19" fill="#6060ff"/><rect x="530" y="805" width="2" height="15" fill="#6c6cff"/><rect x="561" y="805" width="2" height="15" fill="#6c6cff"/><rect x="140" y="870" width="5" height="16" fill="#7878ff"/><rect x="145" y="870" width="6" height="18" fill="#7878ff"/><rect x="151" y="870" width="3" height="15" fill="#7878ff"/><rect x="154" y="870" width="8" height="15" fill="#7878ff"/><rect x="162" y="870" width="5" height="17" fill="#7878ff"/><rect x="167" y="870" width="3" height="17" fill="#7878ff"/><rect x="170" y="870" width="4" height="15" fill="#7878ff"/><rect x="174" y="870" width="3" height="17" fill="#7878ff"/><rect x="177" y="870" width="6" height="15" fill="#7878ff"/><rect x="183" y="870" width="4" height="15" fill="#7878ff"/><rect x="187" y="870" width="8" height="17" fill="#7878ff"/><rect x="195" y="870" width="3" height="17" fill="#7878ff"/><rect x="198" y="870" width="3" height="16" fill="#7878ff"/><rect x="201" y="870" width="10" height="18" fill="#7878ff"/><rect x="211" y="870" width="8" height="15" fill="#7878ff"/><rect x="219" y="870" width="8" height="17" fill="#7878ff"/><rect x="227" y="870" width="6" height="15" fill="#7878ff"/><rect x="233" y="870" width="4" height="15" fill="#7878ff"/><rect x="237" y="870" width="8" height="16" fill="#7878ff"/><rect x="245" y="870" width="5" height="17" fill="#7878ff"/><rect x="250" y="870" width="4" height="17" fill="#7878ff"/><rect x="254" y="870" width="3" height="17" fill="#7878ff"/><rect x="257" y="870" width="5" height="17" fill="#7878ff"/><rect x="262" y="870" width="10" height="16" fill="#7878ff"/><rect x="272" y="870" width="3" height="17" fill="#7878ff"/><rect x="275" y="870" width="8" height="18" fill="#7878ff"/><rect x="283" y="870" width="4" height="16" fill="#7878ff"/><rect x="287" y="870" width="3" height="17" fill="#7878ff"/><rect x="290" y="870" width="10" height="15" fill="#7878ff"/><rect x="300" y="870" width="8" height="15" fill="#7878ff"/><rect x="308" y="870" width="8" height="16" fill="#7878ff"/><rect x="316" y="870" width="6" height="18" fill="#7878ff"/><rect x="322" y="870" width="8" height="17" fill="#7878ff"/><rect x="330" y="870" width="5" height="17" fill="#7878ff"/><rect x="335" y="870" width="8" height="17" fill="#7878ff"/><rect x="343" y="870" width="5" height="16" fill="#7878ff"/><rect x="348" y="870" width="4" height="16" fill="#7878ff"/><rect x="352" y="870" width="10" height="16" fill="#7878ff"/><rect x="362" y="870" width="3" height="17" fill="#7878ff"/><rect x="365" y="870" width="5" height="17" fill="#7878ff"/><rect x="370" y="870" width="6" height="16" fill="#7878ff"/><rect x="376" y="870" width="10" height="17" fill="#7878ff"/><rect x="386" y="870" width="5" height="17" fill="#7878ff"/><rect x="391" y="870" width="3" height="15" fill="#7878ff"/><rect x="394" y="870" width="8" height="17" fill="#7878ff"/><rect x="402" y="870" width="4" height="16" fill="#7878ff"/><rect x="406" y="870" width="4" height="17" fill="#7878ff"/><rect x="410" y="870" width="6" height="15" fill="#7878ff"/><rect x="416" y="870" width="10" height="15" fill="#7878ff"/><rect x="426" y="870" width="8" height="17" fill="#7878ff"/><rect x="434" y="870" width="5" height="16" fill="#7878ff"/><rect x="439" y="870" width="10" height="16" fill="#7878ff"/><rect x="449" y="870" width="8" height="17" fill="#7878ff"/><rect x="457" y="870" width="8" height="17" fill="#7878ff"/><rect x="465" y="870" width="3" height="15" fill="#7878ff"/><rect x="468" y="870" width="5" height="17" fill="#7878ff"/><rect x="473" y="870" width="10" height="18" fill="#7878ff"/><rect x="483" y="870" width="3" height="15" fill="#7878ff"/><rect x="486" y="870" width="10" height="18" fill="#7878ff"/><rect x="496" y="870" width="5" height="18" fill="#7878ff"/><rect x="501" y="870" width="8" height="18" fill="#7878ff"/><rect x="509" y="870" width="6" height="16" fill="#7878ff"/><rect x="515" y="870" width="10" height="17" fill="#7878ff"/><rect x="525" y="870" width="10" height="16" fill="#7878ff"/><rect x="535" y="870" width="3" height="17" fill="#7878ff"/><rect x="538" y="870" width="5" height="16" fill="#7878ff"/><rect x="543" y="870" width="8" height="15" fill="#7878ff"/><rect x="551" y="870" width="6" height="15" fill="#7878ff"/><rect x="557" y="870" width="4" height="16" fill="#7878ff"/><rect x="561" y="870" width="4" height="18" fill="#7878ff"/><rect x="565" y="870" width="4" height="17" fill="#7878ff"/><rect x="569" y="870" width="6" height="17" fill="#7878ff"/><rect x="575" y="870" width="3" height="16" fill="#7878ff"/><rect x="578" y="870" width="6" height="17" fill="#7878ff"/><rect x="584" y="870" width="8" height="16" fill="#7878ff"/><rect x="592" y="870" width="4" height="17" fill="#7878ff"/><rect x="596" y="870" width="8" height="16" fill="#7878ff"/><rect x="604" y="870" width="10" height="17" fill="#7878ff"/><rect x="614" y="870" width="5" height="18" fill="#7878ff"/><rect x="619" y="870" width="6" height="16" fill="#7878ff"/><rect x="625" y="870" width="4" height="15" fill="#7878ff"/><rect x="629" y="870" width="4" height="16" fill="#7878ff"/><rect x="633" y="870" width="4" height="18" fill="#7878ff"/><rect x="637" y="870" width="4" height="15" fill="#7878ff"/><rect x="641" y="870" width="6" height="17" fill="#7878ff"/><rect x="647" y="870" width="4" height="16" fill="#7878ff"/><rect x="651" y="870" width="5" height="15" fill="#7878ff"/><rect x="656" y="870" width="4" height="17" fill="#7878ff"/><rect x="660" y="870" width="8" height="16" fill="#7878ff"/><rect x="668" y="870" width="8" height="17" fill="#7878ff"/><rect x="676" y="870" width="5" height="16" fill="#7878ff"/><rect x="681" y="870" width="10" height="17" fill="#7878ff"/><rect x="691" y="870" width="8" height="18" fill="#7878ff"/><rect x="699" y="870" width="10" height="18" fill="#7878ff"/><rect x="709" y="870" width="3" height="17" fill="#7878ff"/><rect x="712" y="870" width="10" height="17" fill="#7878ff"/><rect x="722" y="870" width="6" height="17" fill="#7878ff"/><rect x="728" y="870" width="6" height="17" fill="#7878ff"/><rect x="734" y="870" width="3" height="17" fill="#7878ff"/><rect x="737" y="870" width="10" height="17" fill="#7878ff"/><rect x="747" y="870" width="3" height="16" fill="#7878ff"/><rect x="750" y="870" width="3" height="16" fill="#7878ff"/><rect x="753" y="870" width="6" height="16" fill="#7878ff"/><rect x="759" y="870" width="3" height="16" fill="#7878ff"/><rect x="762" y="870" width="8" height="15" fill="#7878ff"/><rect x="770" y="870" width="3" height="15" fill="#7878ff"/><rect x="773" y="870" width="7" height="16" fill="#7878ff"/><rect x="208" y="870" width="4" height="15" fill="#9090ff"/><rect x="320" y="870" width="10" height="15" fill="#8c8cff"/><rect x="336" y="870" width="8" height="15" fill="#8c8cff"/><rect x="540" y="870" width="4" height="15" fill="#9090ff"/><rect x="558" y="870" width="4" height="15" fill="#9090ff"/><rect x="568" y="870" width="12" height="15" fill="#8c8cff"/><rect x="664" y="870" width="20" height="15" fill="#8c8cff"/><rect x="772" y="870" width="8" height="15" fill="#9090ff"/><rect x="296" y="870" width="4" height="25" fill="#5a5aff"/><rect x="443" y="870" width="4" height="27" fill="#5a5aff"/><rect x="459" y="870" width="3" height="22" fill="#6a6aff"/><rect x="480" y="870" width="4" height="25" fill="#5a5aff"/><rect x="140" y="935" width="12" height="11" fill="#8c8cff"/><rect x="152" y="935" width="16" height="10" fill="#9a9aff"/><rect x="168" y="935" width="16" height="12" fill="#8c8cff"/><rect x="184" y="935" width="8" height="11" fill="#8484ff"/><rect x="192" y="935" width="10" height="10" fill="#9a9aff"/><rect x="202" y="935" width="16" height="12" fill="#8484ff"/><rect x="218" y="935" width="12" height="12" fill="#8c8cff"/><rect x="230" y="935" width="20" height="12" fill="#9a9aff"/><rect x="250" y="935" width="6" height="10" fill="#8484ff"/><rect x="256" y="935" width="6" height="10" fill="#9a9aff"/><rect x="262" y="935" width="16" height="11" fill="#8484ff"/><rect x="278" y="935" width="10" height="12" fill="#8c8cff"/><rect x="288" y="935" width="8" height="11" fill="#9a9aff"/><rect x="296" y="935" width="12" height="10" fill="#8484ff"/><rect x="308" y="935" width="12" height="11" fill="#a4a4ff"/><rect x="320" y="935" width="16" height="11" fill="#8484ff"/><rect x="336" y="935" width="10" height="12" fill="#9a9aff"/><rect x="346" y="935" width="10" height="10" fill="#8484ff"/><rect x="356" y="935" width="16" height="11" fill="#8484ff"/><rect x="372" y="935" width="6" height="11" fill="#a4a4ff"/><rect x="378" y="935" width="6" height="10" fill="#8484ff"/><rect x="384" y="935" width="8" height="10" fill="#9a9aff"/><rect x="392" y="935" width="12" height="11" fill="#8c8cff"/><rect x="404" y="935" width="12" height="12" fill="#8484ff"/><rect x="416" y="935" width="20" height="11" fill="#9a9aff"/><rect x="436" y="935" width="10" height="11" fill="#8484ff"/><rect x="446" y="935" width="10" height="11" fill="#8484ff"/><rect x="456" y="935" width="6" height="10" fill="#9a9aff"/><rect x="462" y="935" width="20" height="10" fill="#8484ff"/><rect x="482" y="935" width="6" height="11" fill="#8c8cff"/><rect x="488" y="935" width="8" height="11" fill="#9a9aff"/><rect x="496" y="935" width="16" height="10" fill="#9a9aff"/><rect x="512" y="935" width="12" height="10" fill="#8c8cff"/><rect x="524" y="935" width="12" height="10" fill="#8c8cff"/><rect x="536" y="935" width="6" height="12" fill="#a4a4ff"/><rect x="542" y="935" width="10" height="10" fill="#8484ff"/><rect x="552" y="935" width="8" height="12" fill="#8c8cff"/><rect x="560" y="935" width="20" height="10" fill="#8484ff"/><rect x="580" y="935" width="8" height="11" fill="#9a9aff"/><rect x="588" y="935" width="10" height="12" fill="#8484ff"/><rect x="598" y="935" width="10" height="11" fill="#a4a4ff"/><rect x="608" y="935" width="6" height="10" fill="#8484ff"/><rect x="614" y="935" width="8" height="10" fill="#9a9aff"/><rect x="622" y="935" width="16" height="11" fill="#a4a4ff"/><rect x="638" y="935" width="16" height="10" fill="#8c8cff"/><rect x="654" y="935" width="16" height="12" fill="#8c8cff"/><rect x="670" y="935" width="8" height="10" fill="#8c8cff"/><rect x="678" y="935" width="20" height="11" fill="#9a9aff"/><rect x="698" y="935" width="8" height="10" fill="#9a9aff"/><rect x="706" y="935" width="8" height="11" fill="#9a9aff"/><rect x="714" y="935" width="12" height="11" fill="#8484ff"/><rect x="726" y="935" width="6" height="10" fill="#8484ff"/><rect x="732" y="935" width="6" height="10" fill="#a4a4ff"/><rect x="738" y="935" width="20" height="11" fill="#8c8cff"/><rect x="758" y="935" width="12" height="11" fill="#8c8cff"/><rect x="770" y="935" width="10" height="10" fill="#9a9aff"/><rect x="296" y="935" width="3" height="14" fill="#7070ff"/><rect x="444" y="935" width="3" height="16" fill="#7070ff"/><rect x="496" y="935" width="3" height="13" fill="#7878ff"/><g font-family="'Liberation Mono', 'DejaVu Sans Mono', monospace" shape-rendering="auto"><text transform="translate(10,23) scale(1,1.0)" font-size="15.0" fill="#000" font-weight="bold" text-anchor="start" stroke="#000" stroke-width="0.35">Map View</text><text transform="translate(157,21) scale(1,1.06)" font-size="11.67" fill="#000" font-weight="bold" text-anchor="start" stroke="#000" stroke-width="0.35" xml:space="preserve" style="white-space:pre">Chromosome    : Chromosome 1, reference assembly (C57BL/6J) (Build 37)</text><text transform="translate(157,31) scale(1,1.06)" font-size="11.67" fill="#000" font-weight="bold" text-anchor="start" stroke="#000" stroke-width="0.35" xml:space="preserve" style="white-space:pre">Length (b.p.) : 197,195,432</text><text transform="translate(157,41) scale(1,1.06)" font-size="11.67" fill="#000" font-weight="bold" text-anchor="start" stroke="#000" stroke-width="0.35" xml:space="preserve" style="white-space:pre">  Show (b.p.) : 87,722,373-89,722,548 : 2,000,176 bp</text><text transform="translate(150,51) scale(1,1.06)" font-size="11.67" fill="#000" font-weight="bold" text-anchor="start" stroke="#000" stroke-width="0.35" xml:space="preserve" style="white-space:pre">Read coverage check span : 10,000</text><text transform="translate(228,719) scale(1,1.06)" font-size="11.67" fill="#000" font-weight="bold" text-anchor="start" stroke="#000" stroke-width="0.35">88000000</text><text transform="translate(356,719) scale(1,1.06)" font-size="11.67" fill="#000" font-weight="bold" text-anchor="start" stroke="#000" stroke-width="0.35">88400000</text><text transform="translate(484,719) scale(1,1.06)" font-size="11.67" fill="#000" font-weight="bold" text-anchor="start" stroke="#000" stroke-width="0.35">88800000</text><text transform="translate(612,719) scale(1,1.06)" font-size="11.67" fill="#000" font-weight="bold" text-anchor="start" stroke="#000" stroke-width="0.35">89200000</text><text transform="translate(740,719) scale(1,1.06)" font-size="11.67" fill="#000" font-weight="bold" text-anchor="start" stroke="#000" stroke-width="0.35">89600000</text><text transform="translate(134.5,209) scale(1,1.06)" font-size="11.67" fill="#0000dd" font-weight="bold" text-anchor="end" stroke="#0000dd" stroke-width="0.35">RefSeq Genes</text><text transform="translate(134.5,381) scale(1,1.06)" font-size="11.67" fill="#0f6097" font-weight="bold" text-anchor="end" stroke="#0f6097" stroke-width="0.35">MSM BAC end pairs</text><text transform="translate(134.5,561) scale(1,1.06)" font-size="11.67" fill="#5f5f5f" font-weight="bold" text-anchor="end" stroke="#5f5f5f" stroke-width="0.35">B6N BAC end pairs</text><text transform="translate(134.5,681) scale(1,1.12)" font-size="10.0" fill="#000" font-weight="normal" text-anchor="end" stroke="#000" stroke-width="0.25">Repeat</text><text transform="translate(134.5,696) scale(1,1.12)" font-size="10.0" fill="#000" font-weight="normal" text-anchor="end" stroke="#000" stroke-width="0.25">chromosome 1</text><text transform="translate(134.5,741) scale(1,1.06)" font-size="11.67" fill="#555" font-weight="bold" text-anchor="end" stroke="#555" stroke-width="0.35">dbSNP(Mouse)</text><text transform="translate(134.5,756) scale(1,1.06)" font-size="11.67" fill="#555" font-weight="bold" text-anchor="end" stroke="#555" stroke-width="0.35">MSM/B6 pol.</text><text transform="translate(134.5,773) scale(1,1.06)" font-size="11.67" fill="#555" font-weight="bold" text-anchor="end" stroke="#555" stroke-width="0.35">MSM Read Depth</text><text transform="translate(134.5,786) scale(1,1.06)" font-size="11.67" fill="#555" font-weight="bold" text-anchor="end" stroke="#555" stroke-width="0.35">(Capillary)</text><text transform="translate(134.5,801) scale(1,1.06)" font-size="11.67" fill="#ff9410" font-weight="bold" text-anchor="end" stroke="#ff9410" stroke-width="0.35">MSM/B6 pol.</text><text transform="translate(134.5,816) scale(1,1.06)" font-size="11.67" fill="#0000ee" font-weight="bold" text-anchor="end" stroke="#0000ee" stroke-width="0.35">MSM Read Depth</text><text transform="translate(134.5,829) scale(1,1.06)" font-size="11.67" fill="#0000ee" font-weight="bold" text-anchor="end" stroke="#0000ee" stroke-width="0.35">(SRA)</text><text transform="translate(134.5,866) scale(1,1.06)" font-size="11.67" fill="#ff9410" font-weight="bold" text-anchor="end" stroke="#ff9410" stroke-width="0.35">JF1/B6 pol.</text><text transform="translate(134.5,881) scale(1,1.06)" font-size="11.67" fill="#0000ee" font-weight="bold" text-anchor="end" stroke="#0000ee" stroke-width="0.35">JF1 Read Depth</text><text transform="translate(134.5,894) scale(1,1.06)" font-size="11.67" fill="#0000ee" font-weight="bold" text-anchor="end" stroke="#0000ee" stroke-width="0.35">(SRA)</text><text transform="translate(134.5,931) scale(1,1.06)" font-size="11.67" fill="#ff9410" font-weight="bold" text-anchor="end" stroke="#ff9410" stroke-width="0.35">JF1/B6 pol.</text><text transform="translate(134.5,946) scale(1,1.06)" font-size="11.67" fill="#0000ee" font-weight="bold" text-anchor="end" stroke="#0000ee" stroke-width="0.35">JF1 Read Depth</text><text transform="translate(134.5,959) scale(1,1.06)" font-size="11.67" fill="#0000ee" font-weight="bold" text-anchor="end" stroke="#0000ee" stroke-width="0.35">(SRA trimmed)</text></g></svg></body></html>
